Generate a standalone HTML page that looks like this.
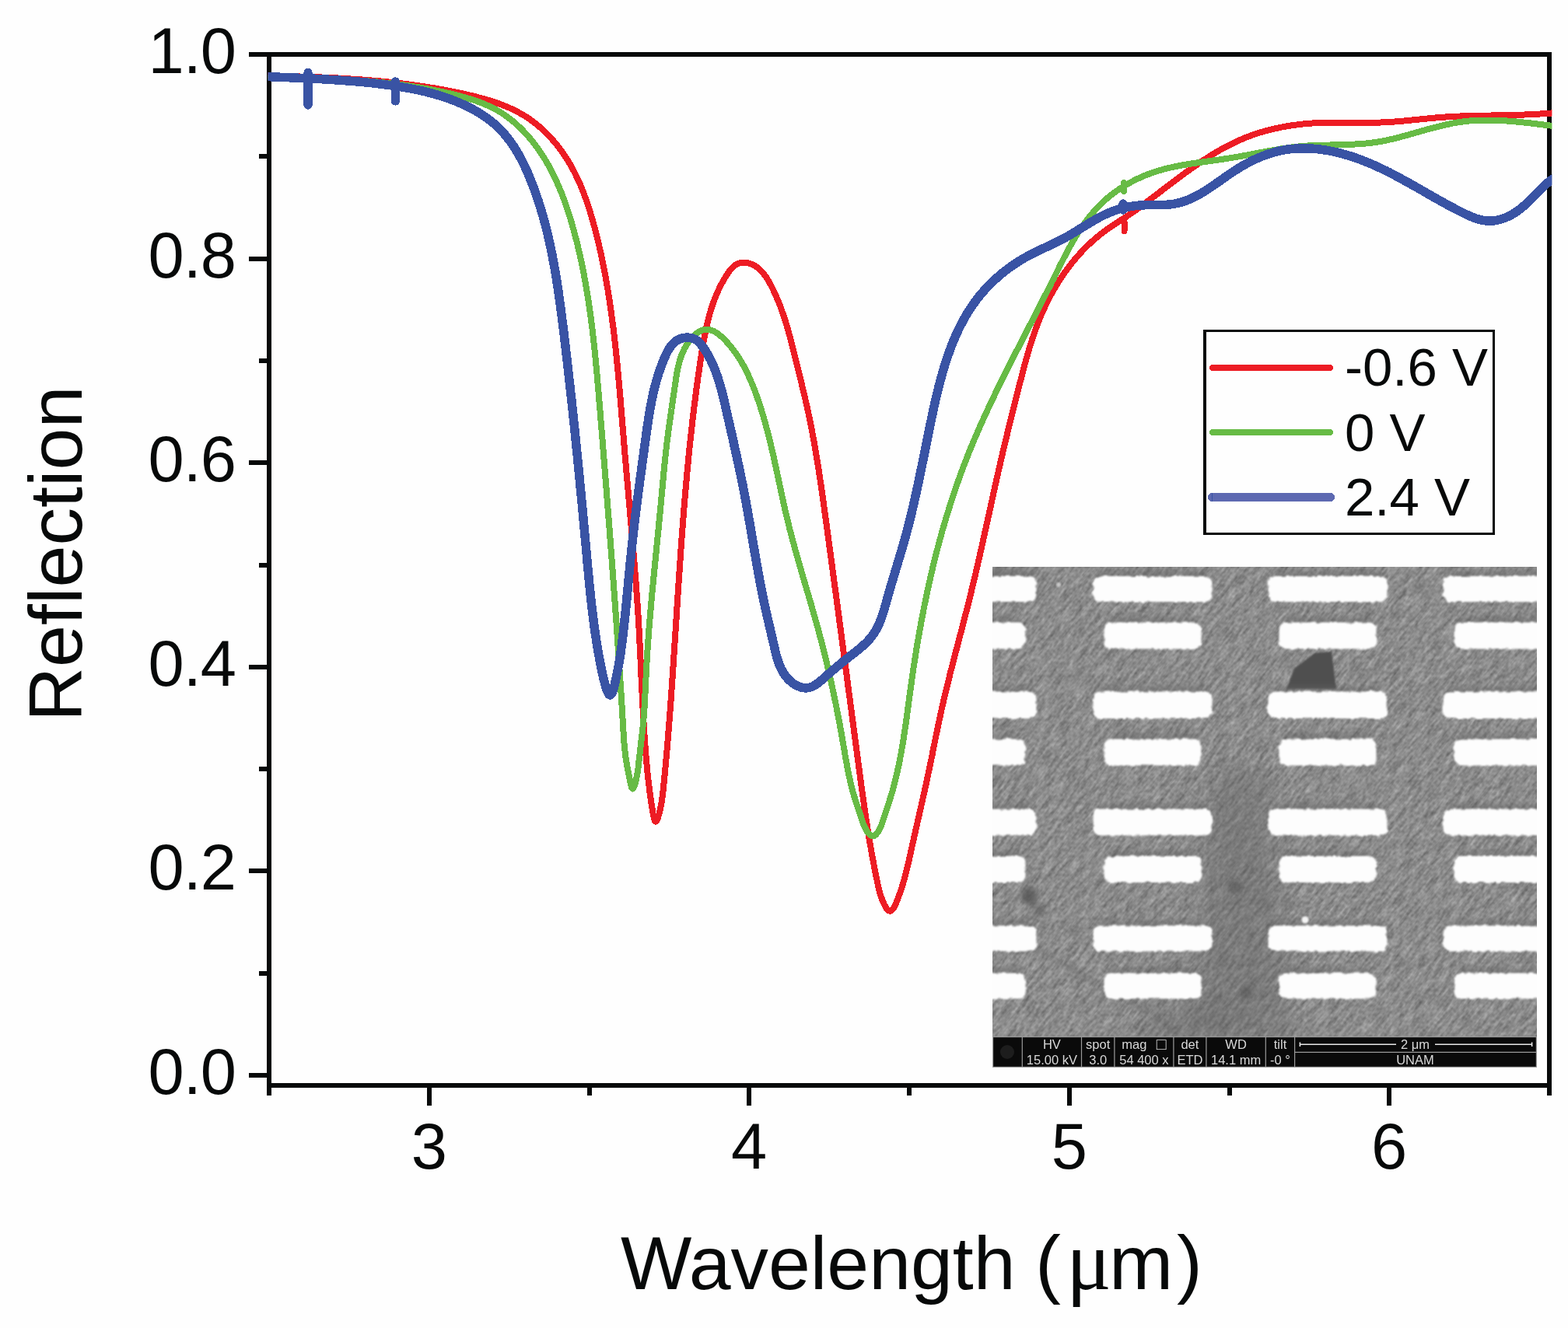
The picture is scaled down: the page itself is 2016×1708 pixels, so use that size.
<!DOCTYPE html>
<html><head><meta charset="utf-8"><title>Reflection spectra</title>
<style>html,body{margin:0;padding:0;background:#FEFEFE;}svg{display:block}</style></head>
<body><svg width="2016" height="1708" viewBox="0 0 2016 1708">
<rect width="2016" height="1708" fill="#FEFEFE"/>
<g fill="#070909" shape-rendering="crispEdges">
<rect x="320" y="67" width="1675" height="6"/>
<rect x="343" y="67" width="6" height="1342"/>
<rect x="343" y="1393" width="1652" height="6"/>
<rect x="1989" y="67" width="6" height="1342"/>
<rect x="320" y="1380.0" width="25" height="6"/>
<rect x="333" y="1248.7" width="12" height="6"/>
<rect x="320" y="1117.4" width="25" height="6"/>
<rect x="333" y="986.1" width="12" height="6"/>
<rect x="320" y="854.8" width="25" height="6"/>
<rect x="333" y="723.5" width="12" height="6"/>
<rect x="320" y="592.2" width="25" height="6"/>
<rect x="333" y="460.9" width="12" height="6"/>
<rect x="320" y="329.6" width="25" height="6"/>
<rect x="333" y="198.3" width="12" height="6"/>
<rect x="320" y="67.0" width="25" height="6"/>
<rect x="343.0" y="1397" width="6" height="12"/>
<rect x="548.8" y="1397" width="6" height="25"/>
<rect x="754.5" y="1397" width="6" height="12"/>
<rect x="960.2" y="1397" width="6" height="25"/>
<rect x="1166.0" y="1397" width="6" height="12"/>
<rect x="1371.8" y="1397" width="6" height="25"/>
<rect x="1577.5" y="1397" width="6" height="12"/>
<rect x="1783.2" y="1397" width="6" height="25"/>
<rect x="1989.0" y="1397" width="6" height="12"/>
</g>
<g font-family="Liberation Sans, Arial, sans-serif" font-size="83" fill="#070909">
<text x="303" y="1407.0" text-anchor="end" letter-spacing="-1">0.0</text>
<text x="303" y="1144.4" text-anchor="end" letter-spacing="-1">0.2</text>
<text x="303" y="881.8" text-anchor="end" letter-spacing="-1">0.4</text>
<text x="303" y="619.2" text-anchor="end" letter-spacing="-1">0.6</text>
<text x="303" y="356.6" text-anchor="end" letter-spacing="-1">0.8</text>
<text x="303" y="94.0" text-anchor="end" letter-spacing="-1">1.0</text>
<text x="551.8" y="1503" text-anchor="middle">3</text>
<text x="963.2" y="1503" text-anchor="middle">4</text>
<text x="1374.8" y="1503" text-anchor="middle">5</text>
<text x="1786.2" y="1503" text-anchor="middle">6</text>
</g>
<text transform="translate(105,928) rotate(-90)" font-family="Liberation Sans, Arial, sans-serif" font-size="97" fill="#070909">Reflection</text>
<text y="1658" font-family="Liberation Sans, Arial, sans-serif" font-size="98.8" fill="#070909"><tspan x="798" font-size="96.8">Wavelength</tspan> <tspan x="1331">(</tspan><tspan x="1371" font-family="Liberation Serif, serif" font-size="108">μ</tspan><tspan x="1426">m</tspan><tspan x="1513">)</tspan></text>
<defs>
<clipPath id="semclip"><rect x="1276" y="729" width="700" height="604"/></clipPath>
<filter id="blur4" x="-50%" y="-50%" width="200%" height="200%"><feGaussianBlur stdDeviation="6"/></filter>
<filter id="blur8" x="-50%" y="-50%" width="200%" height="200%"><feGaussianBlur stdDeviation="14"/></filter>
<filter id="blur2" x="-50%" y="-50%" width="200%" height="200%"><feGaussianBlur stdDeviation="3"/></filter>
<filter id="blur1" x="-10%" y="-50%" width="120%" height="200%"><feGaussianBlur stdDeviation="1.2"/></filter>
<filter id="noise" x="0" y="0" width="100%" height="100%" color-interpolation-filters="sRGB"><feTurbulence type="fractalNoise" baseFrequency="0.045 0.22" numOctaves="3" seed="7"/><feGaussianBlur stdDeviation="0.7"/><feColorMatrix type="matrix" values="1 0 0 0 0  1 0 0 0 0  1 0 0 0 0  0 0 0 0 0.36"/></filter>
<filter id="noise2" x="0" y="0" width="100%" height="100%" color-interpolation-filters="sRGB"><feTurbulence type="fractalNoise" baseFrequency="0.25" numOctaves="1" seed="11"/><feColorMatrix type="matrix" values="1 0 0 0 0  1 0 0 0 0  1 0 0 0 0  0 0 0 0 0.18"/></filter>
<filter id="rough" x="-5%" y="-20%" width="110%" height="140%"><feTurbulence type="fractalNoise" baseFrequency="0.15" numOctaves="2" seed="5" result="t"/><feDisplacementMap in="SourceGraphic" in2="t" scale="5" xChannelSelector="R" yChannelSelector="G" result="d"/><feGaussianBlur in="d" stdDeviation="0.9"/></filter>
<clipPath id="plotclip"><rect x="344.5" y="60" width="1650.9" height="1350"/></clipPath>
</defs>
<g clip-path="url(#semclip)">
<rect x="1276" y="729" width="700" height="604" fill="#959595"/>
<g transform="rotate(-52 1626 1031)"><rect x="1150" y="550" width="960" height="960" filter="url(#noise)"/></g>
<rect x="1276" y="729" width="700" height="604" filter="url(#noise2)"/>
<g filter="url(#blur8)" fill="#5e5e5e">
<path d="M1560,990 L1625,990 L1650,1200 L1660,1333 L1530,1333 L1545,1200 Z" opacity="0.35"/>
<path d="M1480,1290 L1560,1300 L1600,1333 L1470,1333 Z" opacity="0.3"/>
<ellipse cx="1290" cy="737" rx="20" ry="10" opacity="0.6"/>
</g>
<g filter="url(#blur2)" fill="#4e4e4e">
<circle cx="1323" cy="1152" r="11" opacity="0.7"/>
<circle cx="1336" cy="1170" r="8" opacity="0.5"/>
<circle cx="1588" cy="1141" r="9" opacity="0.5"/>
<circle cx="1602" cy="1277" r="9" opacity="0.5"/>
<path d="M1331,1220 Q1420,1270 1484,1306 L1520,1334" fill="none" stroke="#555" stroke-width="3" opacity="0.6"/>
</g>
<path d="M1654,886 L1664,860 L1690,840 L1712,838 L1718,886 Z" fill="#505050" filter="url(#blur1)"/>
<g fill="#666" opacity="0.45" filter="url(#blur2)">
<rect x="1185.5" y="734" width="141" height="10" rx="5"/>
<rect x="1411.5" y="734" width="141" height="10" rx="5"/>
<rect x="1636.5" y="734" width="141" height="10" rx="5"/>
<rect x="1861.5" y="734" width="141" height="10" rx="5"/>
<rect x="1199.5" y="793.5" width="113" height="10" rx="5"/>
<rect x="1425.5" y="793.5" width="113" height="10" rx="5"/>
<rect x="1650.5" y="793.5" width="113" height="10" rx="5"/>
<rect x="1875.5" y="793.5" width="113" height="10" rx="5"/>
<rect x="1185.5" y="882.5" width="141" height="10" rx="5"/>
<rect x="1411.5" y="882.5" width="141" height="10" rx="5"/>
<rect x="1636.5" y="882.5" width="141" height="10" rx="5"/>
<rect x="1861.5" y="882.5" width="141" height="10" rx="5"/>
<rect x="1199.5" y="943.5" width="113" height="10" rx="5"/>
<rect x="1425.5" y="943.5" width="113" height="10" rx="5"/>
<rect x="1650.5" y="943.5" width="113" height="10" rx="5"/>
<rect x="1875.5" y="943.5" width="113" height="10" rx="5"/>
<rect x="1185.5" y="1033.5" width="141" height="10" rx="5"/>
<rect x="1411.5" y="1033.5" width="141" height="10" rx="5"/>
<rect x="1636.5" y="1033.5" width="141" height="10" rx="5"/>
<rect x="1861.5" y="1033.5" width="141" height="10" rx="5"/>
<rect x="1199.5" y="1094" width="113" height="10" rx="5"/>
<rect x="1425.5" y="1094" width="113" height="10" rx="5"/>
<rect x="1650.5" y="1094" width="113" height="10" rx="5"/>
<rect x="1875.5" y="1094" width="113" height="10" rx="5"/>
<rect x="1185.5" y="1183.5" width="141" height="10" rx="5"/>
<rect x="1411.5" y="1183.5" width="141" height="10" rx="5"/>
<rect x="1636.5" y="1183.5" width="141" height="10" rx="5"/>
<rect x="1861.5" y="1183.5" width="141" height="10" rx="5"/>
<rect x="1199.5" y="1244.5" width="113" height="10" rx="5"/>
<rect x="1425.5" y="1244.5" width="113" height="10" rx="5"/>
<rect x="1650.5" y="1244.5" width="113" height="10" rx="5"/>
<rect x="1875.5" y="1244.5" width="113" height="10" rx="5"/>
</g>
<g fill="#FDFDFD" filter="url(#rough)">
<rect x="1179.5" y="741" width="153" height="33" rx="9" ry="9"/>
<rect x="1405.5" y="741" width="153" height="33" rx="9" ry="9"/>
<rect x="1630.5" y="741" width="153" height="33" rx="9" ry="9"/>
<rect x="1855.5" y="741" width="153" height="33" rx="9" ry="9"/>
<rect x="1193.5" y="800.5" width="125" height="34.0" rx="9" ry="9"/>
<rect x="1419.5" y="800.5" width="125" height="34.0" rx="9" ry="9"/>
<rect x="1644.5" y="800.5" width="125" height="34.0" rx="9" ry="9"/>
<rect x="1869.5" y="800.5" width="125" height="34.0" rx="9" ry="9"/>
<rect x="1179.5" y="889.5" width="153" height="34.5" rx="9" ry="9"/>
<rect x="1405.5" y="889.5" width="153" height="34.5" rx="9" ry="9"/>
<rect x="1630.5" y="889.5" width="153" height="34.5" rx="9" ry="9"/>
<rect x="1855.5" y="889.5" width="153" height="34.5" rx="9" ry="9"/>
<rect x="1193.5" y="950.5" width="125" height="34.0" rx="9" ry="9"/>
<rect x="1419.5" y="950.5" width="125" height="34.0" rx="9" ry="9"/>
<rect x="1644.5" y="950.5" width="125" height="34.0" rx="9" ry="9"/>
<rect x="1869.5" y="950.5" width="125" height="34.0" rx="9" ry="9"/>
<rect x="1179.5" y="1040.5" width="153" height="34.0" rx="9" ry="9"/>
<rect x="1405.5" y="1040.5" width="153" height="34.0" rx="9" ry="9"/>
<rect x="1630.5" y="1040.5" width="153" height="34.0" rx="9" ry="9"/>
<rect x="1855.5" y="1040.5" width="153" height="34.0" rx="9" ry="9"/>
<rect x="1193.5" y="1101" width="125" height="34" rx="9" ry="9"/>
<rect x="1419.5" y="1101" width="125" height="34" rx="9" ry="9"/>
<rect x="1644.5" y="1101" width="125" height="34" rx="9" ry="9"/>
<rect x="1869.5" y="1101" width="125" height="34" rx="9" ry="9"/>
<rect x="1179.5" y="1190.5" width="153" height="33.0" rx="9" ry="9"/>
<rect x="1405.5" y="1190.5" width="153" height="33.0" rx="9" ry="9"/>
<rect x="1630.5" y="1190.5" width="153" height="33.0" rx="9" ry="9"/>
<rect x="1855.5" y="1190.5" width="153" height="33.0" rx="9" ry="9"/>
<rect x="1193.5" y="1251.5" width="125" height="33.0" rx="9" ry="9"/>
<rect x="1419.5" y="1251.5" width="125" height="33.0" rx="9" ry="9"/>
<rect x="1644.5" y="1251.5" width="125" height="33.0" rx="9" ry="9"/>
<rect x="1869.5" y="1251.5" width="125" height="33.0" rx="9" ry="9"/>
</g>
<circle cx="1678" cy="1183" r="4.5" fill="#f4f4f4" filter="url(#blur1)"/>
<circle cx="1361" cy="752" r="3" fill="#c8c8c8" filter="url(#blur1)"/>
</g>
<g>
<rect x="1276" y="1333" width="700" height="40" fill="#0a0a0a"/>
<g stroke="#9a9a9a" stroke-width="1.2" fill="none">
<rect x="1276.6" y="1333.6" width="698.8" height="38.8"/>
<line x1="1314.3" y1="1333.6" x2="1314.3" y2="1372.4"/>
<line x1="1390.5" y1="1333.6" x2="1390.5" y2="1372.4"/>
<line x1="1432.9" y1="1333.6" x2="1432.9" y2="1372.4"/>
<line x1="1508.9" y1="1333.6" x2="1508.9" y2="1372.4"/>
<line x1="1550.9" y1="1333.6" x2="1550.9" y2="1372.4"/>
<line x1="1627.3" y1="1333.6" x2="1627.3" y2="1372.4"/>
<line x1="1664.6" y1="1333.6" x2="1664.6" y2="1372.4"/>
<line x1="1664.6" y1="1353.4" x2="1975.4" y2="1353.4"/>
</g>
<g font-family="Liberation Sans, Arial, sans-serif" font-size="16.5" fill="#d8d8d8" text-anchor="middle">
<text x="1352.4" y="1348.6">HV</text><text x="1352.4" y="1368.6">15.00 kV</text>
<text x="1411.7" y="1348.6">spot</text><text x="1411.7" y="1368.6">3.0</text>
<text x="1470.9" y="1368.6">54 400 x</text>
<text x="1529.9" y="1348.6">det</text><text x="1529.9" y="1368.6">ETD</text>
<text x="1589.1" y="1348.6">WD</text><text x="1589.1" y="1368.6">14.1 mm</text>
<text x="1646" y="1348.6">tilt</text><text x="1646" y="1368.6">-0 °</text>
<text x="1458.4" y="1348.6">mag</text><text x="1493" y="1350" font-size="21">□</text>
<text x="1819.5" y="1349">2 μm</text>
<text x="1819.5" y="1368.6">UNAM</text>
</g>
<g stroke="#e8e8e8" stroke-width="1.6"><line x1="1671.4" y1="1343.3" x2="1795" y2="1343.3"/><line x1="1845" y1="1343.3" x2="1969.6" y2="1343.3"/><line x1="1671.4" y1="1340.5" x2="1671.4" y2="1346"/><line x1="1969.6" y1="1340.5" x2="1969.6" y2="1346"/></g>
<circle cx="1295" cy="1353" r="9" fill="#2a2a2a" opacity="0.6"/>
</g>
<g clip-path="url(#plotclip)" fill="none" stroke-linejoin="round" stroke-linecap="round" shape-rendering="crispEdges">
<path d="M346.0,97.3C347.6,97.4 349.3,97.4 351.0,97.5C352.6,97.5 354.3,97.6 356.0,97.6C357.7,97.6 359.3,97.7 361.0,97.7C362.7,97.8 364.3,97.8 366.0,97.9C367.7,97.9 369.3,98.0 371.0,98.0C372.7,98.1 374.4,98.1 376.0,98.2C377.7,98.2 379.4,98.3 381.0,98.3C382.7,98.4 384.4,98.4 386.0,98.5C387.7,98.5 389.4,98.6 391.0,98.6C392.7,98.7 394.4,98.8 396.1,98.8C397.7,98.9 399.4,98.9 401.1,99.0C402.7,99.1 404.4,99.1 406.1,99.2C407.7,99.3 409.4,99.3 411.1,99.4C412.7,99.5 414.4,99.5 416.1,99.6C417.7,99.7 419.4,99.8 421.1,99.8C422.7,99.9 424.4,100.0 426.1,100.1C427.7,100.2 429.4,100.3 431.1,100.3C432.7,100.4 434.4,100.5 436.1,100.6C437.7,100.7 439.4,100.8 441.1,100.9C442.7,101.0 444.4,101.1 446.1,101.2C447.7,101.3 449.4,101.4 451.1,101.5C452.7,101.6 454.4,101.7 456.0,101.8C457.7,101.9 459.4,102.1 461.0,102.2C462.7,102.3 464.4,102.4 466.0,102.5C467.7,102.7 469.3,102.8 471.0,102.9C472.7,103.0 474.3,103.2 476.0,103.3C477.6,103.5 479.3,103.6 481.0,103.7C482.6,103.9 484.3,104.0 485.9,104.2C487.6,104.3 489.3,104.5 490.9,104.6C492.6,104.8 494.2,105.0 495.9,105.1C497.6,105.3 499.2,105.5 500.9,105.6C502.5,105.8 504.2,106.0 505.8,106.2C507.5,106.3 509.2,106.5 510.8,106.7C512.5,106.9 514.1,107.1 515.8,107.3C517.4,107.5 519.1,107.7 520.7,107.9C522.4,108.1 524.0,108.3 525.7,108.5C527.3,108.7 529.0,109.0 530.6,109.2C532.3,109.4 534.0,109.6 535.6,109.9C537.3,110.1 538.9,110.3 540.6,110.6C542.2,110.8 543.8,111.1 545.5,111.3C547.1,111.6 548.8,111.8 550.4,112.1C552.1,112.3 553.7,112.6 555.4,112.9C557.0,113.2 558.7,113.4 560.3,113.7C562.0,114.0 563.6,114.3 565.2,114.6C566.9,114.9 568.5,115.2 570.2,115.5C571.8,115.8 573.5,116.1 575.1,116.4C576.7,116.7 578.4,117.0 580.0,117.3C581.7,117.7 583.3,118.0 584.9,118.3C586.6,118.7 588.2,119.0 589.9,119.4C591.5,119.7 593.1,120.1 594.8,120.4C596.4,120.8 598.0,121.2 599.7,121.5C601.3,121.9 602.9,122.3 604.6,122.7C606.2,123.0 607.8,123.4 609.5,123.8C611.1,124.2 612.7,124.6 614.3,125.1C616.0,125.5 617.6,125.9 619.2,126.4C620.8,126.8 622.4,127.2 624.0,127.7C625.6,128.2 627.2,128.6 628.8,129.1C630.4,129.6 632.0,130.1 633.6,130.6C635.2,131.2 636.8,131.7 638.3,132.2C639.9,132.8 641.5,133.3 643.0,133.9C644.6,134.5 646.2,135.1 647.7,135.7C649.2,136.3 650.8,136.9 652.3,137.6C653.8,138.2 655.3,138.9 656.8,139.6C658.3,140.3 659.8,141.0 661.3,141.7C662.8,142.5 664.3,143.2 665.7,144.0C667.2,144.8 668.6,145.6 670.1,146.4C671.5,147.2 672.9,148.1 674.3,148.9C675.7,149.8 677.1,150.7 678.5,151.6C679.9,152.5 681.3,153.5 682.6,154.4C684.0,155.4 685.3,156.4 686.6,157.4C688.0,158.4 689.3,159.5 690.6,160.5C691.9,161.6 693.1,162.7 694.4,163.8C695.7,164.9 696.9,166.0 698.2,167.2C699.4,168.3 700.6,169.5 701.8,170.7C703.0,171.8 704.2,173.0 705.3,174.2C706.5,175.5 707.6,176.7 708.8,177.9C709.9,179.2 711.0,180.5 712.1,181.7C713.2,183.0 714.3,184.3 715.3,185.6C716.4,186.9 717.4,188.2 718.5,189.6C719.5,190.9 720.5,192.2 721.5,193.6C722.4,194.9 723.4,196.3 724.3,197.7C725.3,199.0 726.2,200.4 727.1,201.8C728.0,203.2 728.9,204.6 729.8,206.0C730.7,207.4 731.5,208.9 732.4,210.3C733.2,211.7 734.0,213.2 734.8,214.6C735.6,216.1 736.4,217.5 737.2,219.0C738.0,220.4 738.7,221.9 739.5,223.4C740.2,224.9 740.9,226.4 741.6,227.9C742.4,229.4 743.1,230.9 743.7,232.4C744.4,233.9 745.1,235.4 745.8,236.9C746.4,238.5 747.1,240.0 747.7,241.5C748.3,243.1 749.0,244.6 749.6,246.2C750.2,247.7 750.8,249.3 751.3,250.8C751.9,252.4 752.5,253.9 753.1,255.5C753.6,257.1 754.2,258.7 754.7,260.2C755.3,261.8 755.8,263.4 756.3,265.0C756.8,266.6 757.4,268.2 757.9,269.8C758.4,271.4 758.9,273.0 759.3,274.6C759.8,276.2 760.3,277.8 760.8,279.4C761.2,281.0 761.7,282.6 762.2,284.2C762.6,285.8 763.1,287.4 763.5,289.0C763.9,290.6 764.4,292.3 764.8,293.9C765.2,295.5 765.6,297.1 766.1,298.7C766.5,300.4 766.9,302.0 767.3,303.6C767.7,305.2 768.1,306.8 768.5,308.5C768.9,310.1 769.3,311.7 769.7,313.3C770.0,315.0 770.4,316.6 770.8,318.2C771.2,319.8 771.5,321.5 771.9,323.1C772.3,324.7 772.6,326.4 773.0,328.0C773.3,329.6 773.7,331.3 774.0,332.9C774.4,334.5 774.7,336.1 775.0,337.8C775.4,339.4 775.7,341.0 776.0,342.7C776.3,344.3 776.6,346.0 777.0,347.6C777.3,349.2 777.6,350.9 777.9,352.5C778.2,354.1 778.5,355.8 778.8,357.4C779.1,359.1 779.4,360.7 779.7,362.3C780.0,364.0 780.3,365.6 780.5,367.3C780.8,368.9 781.1,370.5 781.4,372.2C781.6,373.8 781.9,375.5 782.2,377.1C782.4,378.8 782.7,380.4 782.9,382.1C783.2,383.7 783.5,385.3 783.7,387.0C784.0,388.6 784.2,390.3 784.4,391.9C784.7,393.6 784.9,395.2 785.2,396.9C785.4,398.5 785.6,400.2 785.9,401.8C786.1,403.5 786.3,405.1 786.5,406.8C786.8,408.4 787.0,410.1 787.2,411.7C787.4,413.4 787.6,415.0 787.8,416.7C788.1,418.3 788.3,420.0 788.5,421.7C788.7,423.3 788.9,425.0 789.1,426.6C789.3,428.3 789.5,429.9 789.7,431.6C789.9,433.2 790.1,434.9 790.2,436.5C790.4,438.2 790.6,439.9 790.8,441.5C791.0,443.2 791.2,444.8 791.3,446.5C791.5,448.1 791.7,449.8 791.9,451.5C792.1,453.1 792.2,454.8 792.4,456.4C792.6,458.1 792.7,459.8 792.9,461.4C793.1,463.1 793.2,464.7 793.4,466.4C793.6,468.1 793.7,469.7 793.9,471.4C794.1,473.0 794.2,474.7 794.4,476.4C794.5,478.0 794.7,479.7 794.8,481.4C795.0,483.0 795.1,484.7 795.3,486.3C795.4,488.0 795.6,489.7 795.7,491.3C795.9,493.0 796.0,494.7 796.2,496.3C796.3,498.0 796.5,499.6 796.6,501.3C796.8,503.0 796.9,504.6 797.0,506.3C797.2,508.0 797.3,509.6 797.5,511.3C797.6,513.0 797.8,514.6 797.9,516.3C798.0,518.0 798.2,519.6 798.3,521.3C798.4,522.9 798.6,524.6 798.7,526.3C798.9,527.9 799.0,529.6 799.1,531.3C799.3,532.9 799.4,534.6 799.5,536.3C799.7,537.9 799.8,539.6 799.9,541.3C800.1,542.9 800.2,544.6 800.3,546.3C800.5,547.9 800.6,549.6 800.7,551.3C800.9,552.9 801.0,554.6 801.2,556.2C801.3,557.9 801.4,559.6 801.6,561.2C801.7,562.9 801.8,564.6 802.0,566.2C802.1,567.9 802.2,569.6 802.4,571.2C802.5,572.9 802.7,574.6 802.8,576.2C802.9,577.9 803.1,579.6 803.2,581.2C803.4,582.9 803.5,584.5 803.6,586.2C803.8,587.9 803.9,589.5 804.1,591.2C804.2,592.9 804.4,594.5 804.5,596.2C804.6,597.9 804.8,599.5 804.9,601.2C805.1,602.8 805.2,604.5 805.4,606.2C805.5,607.8 805.7,609.5 805.8,611.2C805.9,612.8 806.1,614.5 806.2,616.2C806.4,617.8 806.5,619.5 806.7,621.1C806.8,622.8 807.0,624.5 807.1,626.1C807.3,627.8 807.4,629.5 807.6,631.1C807.7,632.8 807.9,634.4 808.0,636.1C808.1,637.8 808.3,639.4 808.4,641.1C808.6,642.8 808.7,644.4 808.9,646.1C809.0,647.7 809.2,649.4 809.3,651.1C809.5,652.7 809.6,654.4 809.8,656.1C809.9,657.7 810.1,659.4 810.2,661.0C810.4,662.7 810.5,664.4 810.6,666.0C810.8,667.7 810.9,669.3 811.1,671.0C811.2,672.7 811.4,674.3 811.5,676.0C811.7,677.7 811.8,679.3 812.0,681.0C812.1,682.6 812.2,684.3 812.4,686.0C812.5,687.6 812.7,689.3 812.8,690.9C813.0,692.6 813.1,694.3 813.3,695.9C813.4,697.6 813.5,699.2 813.7,700.9C813.8,702.6 814.0,704.2 814.1,705.9C814.2,707.6 814.4,709.2 814.5,710.9C814.7,712.5 814.8,714.2 814.9,715.9C815.1,717.5 815.2,719.2 815.3,720.8C815.5,722.5 815.6,724.2 815.7,725.8C815.9,727.5 816.0,729.1 816.1,730.8C816.3,732.5 816.4,734.1 816.5,735.8C816.7,737.5 816.8,739.1 816.9,740.8C817.1,742.4 817.2,744.1 817.3,745.8C817.4,747.4 817.6,749.1 817.7,750.7C817.8,752.4 817.9,754.1 818.1,755.7C818.2,757.4 818.3,759.0 818.4,760.7C818.5,762.4 818.7,764.0 818.8,765.7C818.9,767.4 819.0,769.0 819.1,770.7C819.2,772.3 819.4,774.0 819.5,775.7C819.6,777.3 819.7,779.0 819.8,780.6C819.9,782.3 820.0,784.0 820.1,785.6C820.2,787.3 820.3,788.9 820.5,790.6C820.6,792.3 820.7,793.9 820.8,795.6C820.9,797.3 821.0,798.9 821.1,800.6C821.2,802.2 821.3,803.9 821.4,805.6C821.5,807.2 821.5,808.9 821.6,810.5C821.7,812.2 821.8,813.9 821.9,815.5C822.0,817.2 822.1,818.9 822.2,820.5C822.3,822.2 822.4,823.8 822.4,825.5C822.5,827.2 822.6,828.8 822.7,830.5C822.8,832.2 822.8,833.8 822.9,835.5C823.0,837.1 823.1,838.8 823.2,840.5C823.2,842.1 823.3,843.8 823.4,845.5C823.5,847.1 823.6,848.8 823.6,850.5C823.7,852.1 823.8,853.8 823.9,855.5C823.9,857.1 824.0,858.8 824.1,860.5C824.2,862.1 824.2,863.8 824.3,865.5C824.4,867.1 824.5,868.8 824.5,870.5C824.6,872.2 824.7,873.8 824.8,875.5C824.8,877.2 824.9,878.9 825.0,880.5C825.1,882.2 825.2,883.9 825.2,885.6C825.3,887.2 825.4,888.9 825.5,890.6C825.6,892.3 825.6,893.9 825.7,895.6C825.8,897.3 825.9,899.0 826.0,900.7C826.1,902.3 826.1,904.0 826.2,905.7C826.3,907.4 826.4,909.1 826.5,910.8C826.6,912.4 826.7,914.1 826.8,915.8C826.9,917.5 826.9,919.2 827.0,920.9C827.1,922.5 827.2,924.2 827.3,925.9C827.4,927.6 827.5,929.3 827.6,930.9C827.7,932.6 827.8,934.3 827.9,936.0C828.0,937.6 828.2,939.3 828.3,941.0C828.4,942.6 828.5,944.3 828.6,946.0C828.7,947.6 828.8,949.3 828.9,950.9C829.0,952.6 829.2,954.2 829.3,955.9C829.4,957.5 829.5,959.2 829.6,960.8C829.8,962.5 829.9,964.1 830.0,965.7C830.1,967.4 830.3,969.0 830.4,970.6C830.5,972.2 830.7,973.8 830.8,975.4C830.9,977.0 831.1,978.6 831.2,980.2C831.4,981.8 831.5,983.4 831.7,985.0C831.8,986.6 832.0,988.2 832.1,989.8C832.3,991.4 832.4,993.0 832.6,994.7C832.8,996.3 832.9,997.9 833.1,999.5C833.3,1001.1 833.5,1002.8 833.7,1004.4C833.9,1006.1 834.1,1007.8 834.3,1009.4C834.5,1011.1 834.7,1012.8 834.9,1014.6C835.1,1016.3 835.3,1018.0 835.6,1019.8C835.8,1021.6 836.1,1023.3 836.3,1025.2C836.6,1027.0 836.8,1028.8 837.1,1030.7C837.4,1032.6 837.7,1034.5 838.0,1036.4C838.3,1038.4 838.6,1040.3 838.9,1042.3C839.2,1044.3 839.6,1046.4 839.9,1048.3C840.3,1050.2 840.7,1052.0 841.1,1053.4C841.5,1054.8 841.9,1055.8 842.4,1056.3C842.8,1056.9 843.4,1056.8 843.9,1056.1C844.4,1055.4 845.0,1054.3 845.6,1052.7C846.1,1051.2 846.7,1049.4 847.2,1047.5C847.8,1045.5 848.3,1043.5 848.7,1041.5C849.2,1039.5 849.6,1037.6 849.9,1035.7C850.3,1033.8 850.6,1032.0 850.9,1030.2C851.2,1028.5 851.4,1026.7 851.6,1025.0C851.8,1023.3 852.0,1021.6 852.2,1020.0C852.4,1018.3 852.6,1016.7 852.8,1015.0C852.9,1013.4 853.1,1011.7 853.3,1010.1C853.4,1008.4 853.6,1006.8 853.8,1005.1C853.9,1003.5 854.1,1001.8 854.3,1000.2C854.4,998.5 854.6,996.9 854.7,995.2C854.9,993.5 855.1,991.9 855.2,990.2C855.4,988.6 855.5,986.9 855.7,985.3C855.8,983.6 856.0,982.0 856.1,980.3C856.3,978.7 856.4,977.0 856.6,975.4C856.7,973.7 856.9,972.0 857.0,970.4C857.2,968.7 857.3,967.1 857.5,965.4C857.6,963.8 857.7,962.1 857.9,960.4C858.0,958.8 858.2,957.1 858.3,955.5C858.4,953.8 858.6,952.1 858.7,950.5C858.9,948.8 859.0,947.2 859.1,945.5C859.3,943.8 859.4,942.2 859.5,940.5C859.7,938.9 859.8,937.2 859.9,935.5C860.1,933.9 860.2,932.2 860.3,930.5C860.4,928.9 860.6,927.2 860.7,925.6C860.8,923.9 861.0,922.2 861.1,920.6C861.2,918.9 861.3,917.2 861.5,915.6C861.6,913.9 861.7,912.2 861.8,910.6C862.0,908.9 862.1,907.3 862.2,905.6C862.3,903.9 862.4,902.3 862.6,900.6C862.7,898.9 862.8,897.3 862.9,895.6C863.0,893.9 863.2,892.3 863.3,890.6C863.4,888.9 863.5,887.3 863.6,885.6C863.7,883.9 863.9,882.3 864.0,880.6C864.1,878.9 864.2,877.3 864.3,875.6C864.4,874.0 864.5,872.3 864.7,870.6C864.8,869.0 864.9,867.3 865.0,865.6C865.1,864.0 865.2,862.3 865.3,860.6C865.4,859.0 865.5,857.3 865.7,855.6C865.8,854.0 865.9,852.3 866.0,850.6C866.1,849.0 866.2,847.3 866.3,845.6C866.4,844.0 866.5,842.3 866.6,840.6C866.8,839.0 866.9,837.3 867.0,835.6C867.1,834.0 867.2,832.3 867.3,830.6C867.4,829.0 867.5,827.3 867.6,825.7C867.7,824.0 867.8,822.3 867.9,820.7C868.1,819.0 868.2,817.3 868.3,815.7C868.4,814.0 868.5,812.3 868.6,810.7C868.7,809.0 868.8,807.3 868.9,805.7C869.0,804.0 869.1,802.3 869.2,800.7C869.3,799.0 869.4,797.3 869.6,795.7C869.7,794.0 869.8,792.4 869.9,790.7C870.0,789.0 870.1,787.4 870.2,785.7C870.3,784.0 870.4,782.4 870.5,780.7C870.6,779.0 870.7,777.4 870.8,775.7C871.0,774.0 871.1,772.4 871.2,770.7C871.3,769.1 871.4,767.4 871.5,765.7C871.6,764.1 871.7,762.4 871.8,760.7C871.9,759.1 872.0,757.4 872.1,755.7C872.3,754.1 872.4,752.4 872.5,750.7C872.6,749.1 872.7,747.4 872.8,745.8C872.9,744.1 873.0,742.4 873.1,740.8C873.3,739.1 873.4,737.4 873.5,735.8C873.6,734.1 873.7,732.4 873.8,730.8C873.9,729.1 874.0,727.5 874.2,725.8C874.3,724.1 874.4,722.5 874.5,720.8C874.6,719.1 874.7,717.5 874.8,715.8C875.0,714.1 875.1,712.5 875.2,710.8C875.3,709.2 875.4,707.5 875.5,705.8C875.7,704.2 875.8,702.5 875.9,700.8C876.0,699.2 876.1,697.5 876.3,695.9C876.4,694.2 876.5,692.5 876.6,690.9C876.8,689.2 876.9,687.5 877.0,685.9C877.1,684.2 877.2,682.6 877.4,680.9C877.5,679.2 877.6,677.6 877.8,675.9C877.9,674.2 878.0,672.6 878.1,670.9C878.3,669.3 878.4,667.6 878.5,665.9C878.6,664.3 878.8,662.6 878.9,660.9C879.0,659.3 879.2,657.6 879.3,656.0C879.4,654.3 879.6,652.6 879.7,651.0C879.8,649.3 880.0,647.7 880.1,646.0C880.3,644.3 880.4,642.7 880.5,641.0C880.7,639.3 880.8,637.7 881.0,636.0C881.1,634.4 881.2,632.7 881.4,631.0C881.5,629.4 881.7,627.7 881.8,626.1C882.0,624.4 882.1,622.7 882.3,621.1C882.4,619.4 882.6,617.7 882.7,616.1C882.9,614.4 883.0,612.8 883.2,611.1C883.3,609.4 883.5,607.8 883.6,606.1C883.8,604.5 883.9,602.8 884.1,601.1C884.2,599.5 884.4,597.8 884.6,596.2C884.7,594.5 884.9,592.8 885.0,591.2C885.2,589.5 885.4,587.9 885.5,586.2C885.7,584.5 885.9,582.9 886.0,581.2C886.2,579.6 886.4,577.9 886.5,576.2C886.7,574.6 886.9,572.9 887.1,571.3C887.2,569.6 887.4,567.9 887.6,566.3C887.8,564.6 887.9,563.0 888.1,561.3C888.3,559.7 888.5,558.0 888.7,556.3C888.8,554.7 889.0,553.0 889.2,551.4C889.4,549.7 889.6,548.0 889.8,546.4C890.0,544.7 890.2,543.1 890.3,541.4C890.5,539.7 890.7,538.1 890.9,536.4C891.1,534.8 891.3,533.1 891.5,531.5C891.7,529.8 891.9,528.1 892.1,526.5C892.3,524.8 892.5,523.2 892.7,521.5C892.9,519.9 893.1,518.2 893.4,516.5C893.6,514.9 893.8,513.2 894.0,511.6C894.2,509.9 894.4,508.2 894.6,506.6C894.8,504.9 895.1,503.3 895.3,501.6C895.5,500.0 895.7,498.3 895.9,496.6C896.2,495.0 896.4,493.3 896.6,491.7C896.9,490.0 897.1,488.4 897.3,486.7C897.5,485.1 897.8,483.4 898.0,481.7C898.3,480.1 898.5,478.4 898.7,476.8C899.0,475.1 899.2,473.5 899.5,471.8C899.7,470.1 899.9,468.5 900.2,466.8C900.4,465.2 900.7,463.5 900.9,461.9C901.2,460.2 901.4,458.6 901.7,456.9C902.0,455.2 902.2,453.6 902.5,451.9C902.8,450.3 903.0,448.6 903.3,447.0C903.6,445.3 903.8,443.7 904.1,442.0C904.4,440.4 904.7,438.7 905.0,437.1C905.3,435.4 905.6,433.8 905.9,432.2C906.2,430.5 906.6,428.9 906.9,427.3C907.2,425.6 907.6,424.0 907.9,422.4C908.3,420.8 908.6,419.1 909.0,417.5C909.4,415.9 909.8,414.3 910.2,412.7C910.6,411.1 911.0,409.5 911.4,407.9C911.8,406.3 912.2,404.7 912.7,403.1C913.2,401.5 913.6,399.9 914.1,398.4C914.6,396.8 915.1,395.2 915.6,393.7C916.1,392.1 916.7,390.5 917.2,389.0C917.8,387.5 918.3,385.9 918.9,384.4C919.5,382.9 920.1,381.3 920.8,379.8C921.4,378.3 922.0,376.8 922.7,375.3C923.4,373.8 924.1,372.3 924.8,370.8C925.5,369.4 926.2,367.9 927.0,366.4C927.8,364.9 928.6,363.4 929.4,361.9C930.3,360.4 931.1,358.9 932.1,357.4C933.0,355.8 934.0,354.3 935.0,352.7C936.1,351.1 937.2,349.5 938.3,348.0C939.5,346.5 940.7,345.1 942.0,343.8C943.2,342.5 944.6,341.4 946.0,340.6C947.4,339.7 948.9,339.0 950.4,338.6C951.9,338.1 953.5,337.8 955.1,337.7C956.6,337.6 958.2,337.7 959.8,337.9C961.4,338.2 963.0,338.6 964.5,339.1C966.0,339.6 967.5,340.2 969.0,341.0C970.4,341.7 971.8,342.6 973.1,343.5C974.4,344.5 975.6,345.5 976.9,346.6C978.1,347.8 979.2,349.0 980.3,350.2C981.4,351.5 982.5,352.9 983.5,354.2C984.5,355.6 985.5,357.1 986.4,358.5C987.3,360.0 988.2,361.5 989.1,363.1C990.0,364.6 990.8,366.2 991.6,367.7C992.4,369.3 993.2,370.9 994.0,372.4C994.7,374.0 995.5,375.6 996.2,377.2C996.9,378.7 997.6,380.3 998.3,381.9C999.0,383.5 999.7,385.0 1000.3,386.6C1001.0,388.2 1001.6,389.7 1002.2,391.3C1002.9,392.9 1003.5,394.5 1004.0,396.0C1004.6,397.6 1005.2,399.2 1005.7,400.8C1006.3,402.3 1006.8,403.9 1007.4,405.5C1007.9,407.0 1008.4,408.6 1008.9,410.2C1009.4,411.8 1009.9,413.3 1010.4,414.9C1010.9,416.5 1011.4,418.1 1011.8,419.7C1012.3,421.2 1012.7,422.8 1013.2,424.4C1013.6,426.0 1014.1,427.6 1014.5,429.1C1014.9,430.7 1015.4,432.3 1015.8,433.9C1016.2,435.5 1016.6,437.1 1017.0,438.7C1017.4,440.2 1017.9,441.8 1018.3,443.4C1018.7,445.0 1019.1,446.6 1019.5,448.2C1019.9,449.8 1020.3,451.4 1020.7,453.0C1021.0,454.6 1021.4,456.2 1021.8,457.8C1022.2,459.4 1022.6,461.0 1023.0,462.6C1023.4,464.2 1023.8,465.8 1024.2,467.4C1024.6,469.0 1025.0,470.7 1025.4,472.3C1025.8,473.9 1026.2,475.5 1026.6,477.1C1027.0,478.7 1027.4,480.4 1027.8,482.0C1028.2,483.6 1028.6,485.2 1029.0,486.8C1029.4,488.5 1029.8,490.1 1030.2,491.7C1030.6,493.3 1031.0,495.0 1031.4,496.6C1031.8,498.2 1032.2,499.9 1032.6,501.5C1033.0,503.1 1033.3,504.8 1033.7,506.4C1034.1,508.0 1034.5,509.7 1034.9,511.3C1035.3,512.9 1035.6,514.6 1036.0,516.2C1036.4,517.8 1036.8,519.5 1037.1,521.1C1037.5,522.7 1037.8,524.4 1038.2,526.0C1038.6,527.7 1038.9,529.3 1039.3,530.9C1039.6,532.6 1040.0,534.2 1040.3,535.9C1040.7,537.5 1041.0,539.1 1041.3,540.8C1041.7,542.4 1042.0,544.1 1042.3,545.7C1042.6,547.4 1043.0,549.0 1043.3,550.6C1043.6,552.3 1043.9,553.9 1044.2,555.6C1044.6,557.2 1044.9,558.9 1045.2,560.5C1045.5,562.1 1045.8,563.8 1046.1,565.4C1046.4,567.1 1046.7,568.7 1047.0,570.4C1047.2,572.0 1047.5,573.7 1047.8,575.3C1048.1,576.9 1048.4,578.6 1048.7,580.2C1049.0,581.9 1049.2,583.5 1049.5,585.2C1049.8,586.8 1050.0,588.5 1050.3,590.1C1050.6,591.8 1050.9,593.4 1051.1,595.0C1051.4,596.7 1051.6,598.3 1051.9,600.0C1052.2,601.6 1052.4,603.3 1052.7,604.9C1052.9,606.6 1053.2,608.2 1053.4,609.9C1053.7,611.5 1053.9,613.2 1054.2,614.8C1054.4,616.5 1054.7,618.1 1054.9,619.8C1055.2,621.4 1055.4,623.1 1055.7,624.7C1055.9,626.4 1056.1,628.0 1056.4,629.7C1056.6,631.3 1056.8,633.0 1057.1,634.6C1057.3,636.3 1057.6,637.9 1057.8,639.6C1058.0,641.2 1058.3,642.9 1058.5,644.5C1058.7,646.2 1058.9,647.8 1059.2,649.5C1059.4,651.1 1059.6,652.8 1059.9,654.4C1060.1,656.1 1060.3,657.7 1060.5,659.4C1060.8,661.0 1061.0,662.7 1061.2,664.3C1061.4,666.0 1061.7,667.6 1061.9,669.3C1062.1,670.9 1062.4,672.6 1062.6,674.2C1062.8,675.9 1063.0,677.5 1063.3,679.2C1063.5,680.8 1063.7,682.5 1063.9,684.1C1064.2,685.8 1064.4,687.4 1064.6,689.1C1064.8,690.7 1065.0,692.4 1065.3,694.0C1065.5,695.7 1065.7,697.3 1065.9,699.0C1066.2,700.7 1066.4,702.3 1066.6,704.0C1066.8,705.6 1067.1,707.3 1067.3,708.9C1067.5,710.6 1067.7,712.2 1068.0,713.9C1068.2,715.5 1068.4,717.2 1068.6,718.8C1068.8,720.5 1069.1,722.1 1069.3,723.8C1069.5,725.4 1069.7,727.1 1070.0,728.7C1070.2,730.4 1070.4,732.0 1070.6,733.7C1070.8,735.3 1071.1,737.0 1071.3,738.7C1071.5,740.3 1071.7,742.0 1072.0,743.6C1072.2,745.3 1072.4,746.9 1072.6,748.6C1072.8,750.2 1073.1,751.9 1073.3,753.5C1073.5,755.2 1073.7,756.8 1073.9,758.5C1074.2,760.1 1074.4,761.8 1074.6,763.4C1074.8,765.1 1075.1,766.7 1075.3,768.4C1075.5,770.1 1075.7,771.7 1075.9,773.4C1076.2,775.0 1076.4,776.7 1076.6,778.3C1076.8,780.0 1077.0,781.6 1077.3,783.3C1077.5,784.9 1077.7,786.6 1077.9,788.2C1078.1,789.9 1078.4,791.5 1078.6,793.2C1078.8,794.8 1079.0,796.5 1079.2,798.2C1079.5,799.8 1079.7,801.5 1079.9,803.1C1080.1,804.8 1080.3,806.4 1080.6,808.1C1080.8,809.7 1081.0,811.4 1081.2,813.0C1081.4,814.7 1081.7,816.3 1081.9,818.0C1082.1,819.7 1082.3,821.3 1082.5,823.0C1082.8,824.6 1083.0,826.3 1083.2,827.9C1083.4,829.6 1083.6,831.2 1083.8,832.9C1084.1,834.5 1084.3,836.2 1084.5,837.8C1084.7,839.5 1084.9,841.2 1085.2,842.8C1085.4,844.5 1085.6,846.1 1085.8,847.8C1086.0,849.4 1086.3,851.1 1086.5,852.7C1086.7,854.4 1086.9,856.0 1087.1,857.7C1087.4,859.3 1087.6,861.0 1087.8,862.7C1088.0,864.3 1088.2,866.0 1088.5,867.6C1088.7,869.3 1088.9,870.9 1089.1,872.6C1089.3,874.2 1089.5,875.9 1089.8,877.5C1090.0,879.2 1090.2,880.9 1090.4,882.5C1090.6,884.2 1090.9,885.8 1091.1,887.5C1091.3,889.1 1091.5,890.8 1091.7,892.4C1092.0,894.1 1092.2,895.7 1092.4,897.4C1092.6,899.1 1092.8,900.7 1093.1,902.4C1093.3,904.0 1093.5,905.7 1093.7,907.3C1093.9,909.0 1094.1,910.6 1094.4,912.3C1094.6,913.9 1094.8,915.6 1095.0,917.3C1095.2,918.9 1095.5,920.6 1095.7,922.2C1095.9,923.9 1096.1,925.5 1096.3,927.2C1096.6,928.8 1096.8,930.5 1097.0,932.2C1097.2,933.8 1097.4,935.5 1097.7,937.1C1097.9,938.8 1098.1,940.4 1098.3,942.1C1098.5,943.7 1098.8,945.4 1099.0,947.0C1099.2,948.7 1099.4,950.4 1099.6,952.0C1099.9,953.7 1100.1,955.3 1100.3,957.0C1100.5,958.6 1100.7,960.3 1101.0,961.9C1101.2,963.6 1101.4,965.3 1101.6,966.9C1101.9,968.6 1102.1,970.2 1102.3,971.9C1102.5,973.5 1102.7,975.2 1103.0,976.8C1103.2,978.5 1103.4,980.2 1103.6,981.8C1103.8,983.5 1104.1,985.1 1104.3,986.8C1104.5,988.4 1104.7,990.1 1104.9,991.7C1105.2,993.4 1105.4,995.0 1105.6,996.7C1105.8,998.4 1106.1,1000.0 1106.3,1001.7C1106.5,1003.3 1106.7,1005.0 1107.0,1006.6C1107.2,1008.3 1107.4,1009.9 1107.6,1011.6C1107.9,1013.3 1108.1,1014.9 1108.3,1016.6C1108.5,1018.2 1108.8,1019.9 1109.0,1021.5C1109.2,1023.2 1109.5,1024.8 1109.7,1026.5C1109.9,1028.1 1110.1,1029.8 1110.4,1031.4C1110.6,1033.1 1110.8,1034.7 1111.1,1036.4C1111.3,1038.0 1111.6,1039.7 1111.8,1041.3C1112.0,1043.0 1112.3,1044.6 1112.5,1046.3C1112.8,1047.9 1113.0,1049.6 1113.3,1051.2C1113.5,1052.9 1113.7,1054.5 1114.0,1056.2C1114.2,1057.8 1114.5,1059.4 1114.7,1061.1C1115.0,1062.7 1115.3,1064.4 1115.5,1066.0C1115.8,1067.6 1116.0,1069.3 1116.3,1070.9C1116.6,1072.6 1116.8,1074.2 1117.1,1075.8C1117.4,1077.5 1117.6,1079.1 1117.9,1080.7C1118.2,1082.4 1118.5,1084.0 1118.7,1085.6C1119.0,1087.3 1119.3,1088.9 1119.6,1090.5C1119.9,1092.2 1120.1,1093.8 1120.4,1095.4C1120.7,1097.0 1121.0,1098.7 1121.3,1100.3C1121.6,1101.9 1121.9,1103.5 1122.2,1105.2C1122.5,1106.8 1122.8,1108.4 1123.1,1110.0C1123.4,1111.7 1123.8,1113.3 1124.1,1114.9C1124.4,1116.6 1124.7,1118.2 1125.0,1119.8C1125.4,1121.5 1125.7,1123.1 1126.0,1124.7C1126.3,1126.4 1126.7,1128.0 1127.0,1129.7C1127.4,1131.3 1127.7,1133.0 1128.0,1134.6C1128.4,1136.3 1128.7,1138.0 1129.1,1139.7C1129.5,1141.3 1129.9,1143.0 1130.3,1144.7C1130.7,1146.4 1131.2,1148.2 1131.7,1149.9C1132.3,1151.6 1132.8,1153.4 1133.5,1155.2C1134.1,1156.9 1134.8,1158.7 1135.6,1160.5C1136.4,1162.3 1137.3,1164.1 1138.2,1165.7C1139.1,1167.4 1140.0,1168.8 1141.0,1169.9C1142.0,1170.9 1142.9,1171.7 1143.9,1171.8C1144.8,1172.0 1145.7,1171.7 1146.6,1170.8C1147.5,1170.0 1148.4,1168.8 1149.2,1167.3C1150.1,1165.8 1150.9,1164.1 1151.7,1162.3C1152.4,1160.6 1153.2,1158.7 1153.9,1157.0C1154.6,1155.2 1155.3,1153.4 1155.9,1151.7C1156.6,1149.9 1157.2,1148.2 1157.8,1146.5C1158.4,1144.8 1158.9,1143.1 1159.5,1141.4C1160.0,1139.7 1160.5,1138.0 1161.1,1136.3C1161.6,1134.7 1162.0,1133.0 1162.5,1131.4C1163.0,1129.7 1163.4,1128.1 1163.8,1126.5C1164.3,1124.9 1164.7,1123.2 1165.1,1121.6C1165.5,1120.0 1165.9,1118.4 1166.3,1116.8C1166.6,1115.2 1167.0,1113.6 1167.4,1112.0C1167.8,1110.4 1168.1,1108.8 1168.5,1107.2C1168.8,1105.6 1169.2,1104.0 1169.5,1102.4C1169.9,1100.9 1170.2,1099.3 1170.6,1097.7C1170.9,1096.1 1171.3,1094.5 1171.6,1092.9C1172.0,1091.3 1172.4,1089.7 1172.7,1088.1C1173.1,1086.5 1173.4,1084.9 1173.8,1083.3C1174.2,1081.7 1174.5,1080.0 1174.9,1078.4C1175.3,1076.8 1175.6,1075.2 1176.0,1073.6C1176.3,1072.0 1176.7,1070.4 1177.1,1068.7C1177.5,1067.1 1177.8,1065.5 1178.2,1063.9C1178.6,1062.3 1178.9,1060.6 1179.3,1059.0C1179.7,1057.4 1180.0,1055.8 1180.4,1054.1C1180.8,1052.5 1181.1,1050.9 1181.5,1049.3C1181.9,1047.6 1182.3,1046.0 1182.6,1044.4C1183.0,1042.7 1183.4,1041.1 1183.7,1039.5C1184.1,1037.8 1184.5,1036.2 1184.8,1034.6C1185.2,1032.9 1185.6,1031.3 1185.9,1029.7C1186.3,1028.0 1186.7,1026.4 1187.0,1024.7C1187.4,1023.1 1187.8,1021.5 1188.1,1019.8C1188.5,1018.2 1188.9,1016.6 1189.2,1014.9C1189.6,1013.3 1189.9,1011.6 1190.3,1010.0C1190.7,1008.4 1191.0,1006.7 1191.4,1005.1C1191.7,1003.4 1192.1,1001.8 1192.4,1000.2C1192.8,998.5 1193.1,996.9 1193.5,995.2C1193.8,993.6 1194.2,992.0 1194.5,990.3C1194.9,988.7 1195.2,987.0 1195.5,985.4C1195.9,983.8 1196.2,982.1 1196.6,980.5C1196.9,978.9 1197.2,977.2 1197.6,975.6C1197.9,973.9 1198.2,972.3 1198.6,970.7C1198.9,969.0 1199.2,967.4 1199.5,965.8C1199.9,964.1 1200.2,962.5 1200.5,960.9C1200.9,959.2 1201.2,957.6 1201.5,956.0C1201.8,954.3 1202.2,952.7 1202.5,951.1C1202.8,949.4 1203.2,947.8 1203.5,946.2C1203.8,944.5 1204.2,942.9 1204.5,941.3C1204.8,939.6 1205.2,938.0 1205.5,936.4C1205.8,934.8 1206.2,933.1 1206.5,931.5C1206.9,929.9 1207.2,928.2 1207.6,926.6C1207.9,925.0 1208.2,923.4 1208.6,921.7C1208.9,920.1 1209.3,918.5 1209.7,916.9C1210.0,915.2 1210.4,913.6 1210.7,912.0C1211.1,910.4 1211.5,908.7 1211.8,907.1C1212.2,905.5 1212.6,903.9 1213.0,902.2C1213.3,900.6 1213.7,899.0 1214.1,897.4C1214.5,895.8 1214.9,894.1 1215.3,892.5C1215.6,890.9 1216.0,889.3 1216.4,887.7C1216.8,886.0 1217.2,884.4 1217.6,882.8C1218.0,881.2 1218.4,879.6 1218.8,877.9C1219.2,876.3 1219.6,874.7 1220.0,873.1C1220.4,871.5 1220.8,869.9 1221.2,868.2C1221.6,866.6 1222.0,865.0 1222.4,863.4C1222.9,861.8 1223.3,860.2 1223.7,858.5C1224.1,856.9 1224.5,855.3 1224.9,853.7C1225.3,852.1 1225.8,850.5 1226.2,848.8C1226.6,847.2 1227.0,845.6 1227.4,844.0C1227.9,842.4 1228.3,840.8 1228.7,839.1C1229.1,837.5 1229.5,835.9 1230.0,834.3C1230.4,832.7 1230.8,831.1 1231.2,829.5C1231.7,827.8 1232.1,826.2 1232.5,824.6C1232.9,823.0 1233.3,821.4 1233.8,819.8C1234.2,818.1 1234.6,816.5 1235.0,814.9C1235.5,813.3 1235.9,811.7 1236.3,810.1C1236.7,808.5 1237.1,806.8 1237.6,805.2C1238.0,803.6 1238.4,802.0 1238.8,800.4C1239.2,798.8 1239.7,797.1 1240.1,795.5C1240.5,793.9 1240.9,792.3 1241.3,790.7C1241.7,789.1 1242.2,787.4 1242.6,785.8C1243.0,784.2 1243.4,782.6 1243.8,781.0C1244.2,779.3 1244.6,777.7 1245.0,776.1C1245.4,774.5 1245.9,772.9 1246.3,771.3C1246.7,769.6 1247.1,768.0 1247.5,766.4C1247.9,764.8 1248.3,763.2 1248.7,761.5C1249.0,759.9 1249.4,758.3 1249.8,756.7C1250.2,755.0 1250.6,753.4 1251.0,751.8C1251.4,750.2 1251.8,748.6 1252.2,746.9C1252.6,745.3 1252.9,743.7 1253.3,742.1C1253.7,740.4 1254.1,738.8 1254.5,737.2C1254.8,735.6 1255.2,733.9 1255.6,732.3C1256.0,730.7 1256.4,729.1 1256.7,727.4C1257.1,725.8 1257.5,724.2 1257.8,722.6C1258.2,720.9 1258.6,719.3 1259.0,717.7C1259.3,716.1 1259.7,714.4 1260.1,712.8C1260.4,711.2 1260.8,709.6 1261.2,707.9C1261.5,706.3 1261.9,704.7 1262.3,703.1C1262.6,701.4 1263.0,699.8 1263.3,698.2C1263.7,696.5 1264.1,694.9 1264.4,693.3C1264.8,691.7 1265.2,690.0 1265.5,688.4C1265.9,686.8 1266.2,685.2 1266.6,683.5C1267.0,681.9 1267.3,680.3 1267.7,678.6C1268.0,677.0 1268.4,675.4 1268.8,673.8C1269.1,672.1 1269.5,670.5 1269.8,668.9C1270.2,667.2 1270.5,665.6 1270.9,664.0C1271.3,662.4 1271.6,660.7 1272.0,659.1C1272.3,657.5 1272.7,655.8 1273.0,654.2C1273.4,652.6 1273.8,651.0 1274.1,649.3C1274.5,647.7 1274.8,646.1 1275.2,644.4C1275.5,642.8 1275.9,641.2 1276.3,639.6C1276.6,637.9 1277.0,636.3 1277.3,634.7C1277.7,633.0 1278.1,631.4 1278.4,629.8C1278.8,628.2 1279.2,626.5 1279.5,624.9C1279.9,623.3 1280.2,621.7 1280.6,620.0C1281.0,618.4 1281.3,616.8 1281.7,615.1C1282.1,613.5 1282.4,611.9 1282.8,610.3C1283.2,608.6 1283.5,607.0 1283.9,605.4C1284.3,603.8 1284.6,602.1 1285.0,600.5C1285.4,598.9 1285.8,597.2 1286.1,595.6C1286.5,594.0 1286.9,592.4 1287.3,590.7C1287.6,589.1 1288.0,587.5 1288.4,585.9C1288.8,584.2 1289.1,582.6 1289.5,581.0C1289.9,579.4 1290.3,577.7 1290.7,576.1C1291.1,574.5 1291.4,572.9 1291.8,571.3C1292.2,569.6 1292.6,568.0 1293.0,566.4C1293.4,564.8 1293.8,563.1 1294.2,561.5C1294.6,559.9 1294.9,558.3 1295.3,556.6C1295.7,555.0 1296.1,553.4 1296.5,551.8C1296.9,550.2 1297.3,548.5 1297.7,546.9C1298.1,545.3 1298.5,543.7 1298.9,542.0C1299.3,540.4 1299.7,538.8 1300.1,537.2C1300.5,535.6 1300.9,533.9 1301.3,532.3C1301.7,530.7 1302.1,529.1 1302.5,527.5C1302.9,525.8 1303.3,524.2 1303.7,522.6C1304.1,521.0 1304.6,519.4 1305.0,517.8C1305.4,516.1 1305.8,514.5 1306.2,512.9C1306.6,511.3 1307.0,509.7 1307.4,508.0C1307.8,506.4 1308.2,504.8 1308.6,503.2C1309.1,501.6 1309.5,500.0 1309.9,498.3C1310.3,496.7 1310.7,495.1 1311.1,493.5C1311.5,491.9 1312.0,490.2 1312.4,488.6C1312.8,487.0 1313.2,485.4 1313.6,483.8C1314.0,482.2 1314.5,480.6 1314.9,478.9C1315.3,477.3 1315.7,475.7 1316.2,474.1C1316.6,472.5 1317.0,470.9 1317.4,469.3C1317.9,467.7 1318.3,466.1 1318.8,464.4C1319.2,462.8 1319.7,461.2 1320.1,459.6C1320.6,458.0 1321.0,456.4 1321.5,454.8C1321.9,453.2 1322.4,451.6 1322.9,450.0C1323.4,448.4 1323.8,446.8 1324.3,445.2C1324.8,443.7 1325.3,442.1 1325.8,440.5C1326.3,438.9 1326.8,437.3 1327.3,435.7C1327.9,434.1 1328.4,432.6 1328.9,431.0C1329.5,429.4 1330.0,427.8 1330.6,426.3C1331.1,424.7 1331.7,423.1 1332.2,421.6C1332.8,420.0 1333.4,418.5 1334.0,416.9C1334.6,415.3 1335.2,413.8 1335.8,412.2C1336.4,410.7 1337.1,409.2 1337.7,407.6C1338.3,406.1 1339.0,404.5 1339.7,403.0C1340.3,401.5 1341.0,400.0 1341.7,398.4C1342.4,396.9 1343.1,395.4 1343.8,393.9C1344.5,392.4 1345.2,390.9 1346.0,389.4C1346.7,387.9 1347.4,386.4 1348.2,384.9C1349.0,383.4 1349.7,381.9 1350.5,380.4C1351.3,379.0 1352.1,377.5 1352.9,376.0C1353.7,374.6 1354.6,373.1 1355.4,371.7C1356.2,370.2 1357.1,368.8 1358.0,367.3C1358.8,365.9 1359.7,364.5 1360.6,363.1C1361.5,361.6 1362.4,360.2 1363.3,358.8C1364.2,357.4 1365.1,356.0 1366.1,354.7C1367.0,353.3 1368.0,351.9 1368.9,350.5C1369.9,349.2 1370.9,347.8 1371.8,346.5C1372.8,345.1 1373.8,343.8 1374.8,342.5C1375.9,341.1 1376.9,339.8 1377.9,338.5C1379.0,337.2 1380.0,335.9 1381.1,334.6C1382.1,333.3 1383.2,332.1 1384.3,330.8C1385.4,329.6 1386.5,328.3 1387.6,327.1C1388.7,325.8 1389.9,324.6 1391.0,323.4C1392.1,322.2 1393.3,321.0 1394.5,319.8C1395.6,318.6 1396.8,317.4 1398.0,316.3C1399.2,315.1 1400.4,314.0 1401.6,312.8C1402.8,311.7 1404.1,310.6 1405.3,309.4C1406.6,308.3 1407.8,307.2 1409.1,306.2C1410.4,305.1 1411.6,304.0 1412.9,303.0C1414.2,301.9 1415.5,300.9 1416.9,299.9C1418.2,298.8 1419.5,297.8 1420.9,296.8C1422.2,295.9 1423.6,294.9 1425.0,293.9C1426.3,293.0 1427.7,292.0 1429.1,291.1C1430.5,290.2 1431.9,289.2 1433.3,288.3C1434.7,287.4 1436.1,286.5 1437.5,285.6C1438.9,284.7 1440.3,283.8 1441.7,282.8C1443.2,281.9 1444.5,281.0 1445.9,280.1C1447.3,279.2 1448.7,278.3 1450.1,277.3C1451.5,276.4 1452.8,275.5 1454.2,274.5C1455.5,273.6 1456.9,272.6 1458.2,271.7C1459.6,270.7 1460.9,269.7 1462.3,268.8C1463.6,267.8 1464.9,266.8 1466.3,265.9C1467.6,264.9 1468.9,263.9 1470.3,262.9C1471.6,261.9 1472.9,260.9 1474.2,259.9C1475.5,259.0 1476.9,258.0 1478.2,257.0C1479.5,256.0 1480.8,255.0 1482.1,253.9C1483.5,252.9 1484.8,251.9 1486.1,250.9C1487.4,249.9 1488.7,248.9 1490.1,247.9C1491.4,246.9 1492.7,245.9 1494.0,244.8C1495.4,243.8 1496.7,242.8 1498.0,241.8C1499.4,240.8 1500.7,239.8 1502.0,238.7C1503.4,237.7 1504.7,236.7 1506.0,235.7C1507.4,234.7 1508.7,233.7 1510.0,232.7C1511.4,231.6 1512.7,230.6 1514.1,229.6C1515.4,228.6 1516.8,227.6 1518.1,226.6C1519.5,225.6 1520.8,224.6 1522.2,223.6C1523.5,222.6 1524.9,221.7 1526.2,220.7C1527.6,219.7 1529.0,218.7 1530.3,217.7C1531.7,216.8 1533.1,215.8 1534.4,214.8C1535.8,213.9 1537.2,212.9 1538.6,212.0C1540.0,211.0 1541.3,210.1 1542.7,209.1C1544.1,208.2 1545.5,207.3 1546.9,206.3C1548.3,205.4 1549.7,204.5 1551.1,203.6C1552.5,202.7 1553.9,201.8 1555.4,200.9C1556.8,200.0 1558.2,199.1 1559.6,198.3C1561.0,197.4 1562.5,196.6 1563.9,195.7C1565.3,194.9 1566.8,194.0 1568.2,193.2C1569.7,192.4 1571.1,191.6 1572.6,190.8C1574.0,190.0 1575.5,189.2 1577.0,188.4C1578.4,187.6 1579.9,186.9 1581.4,186.1C1582.9,185.4 1584.4,184.6 1585.9,183.9C1587.3,183.2 1588.8,182.5 1590.3,181.8C1591.9,181.1 1593.4,180.4 1594.9,179.8C1596.4,179.1 1597.9,178.5 1599.5,177.8C1601.0,177.2 1602.5,176.6 1604.1,176.0C1605.6,175.4 1607.2,174.8 1608.7,174.2C1610.3,173.7 1611.9,173.1 1613.4,172.6C1615.0,172.1 1616.6,171.5 1618.2,171.0C1619.7,170.5 1621.3,170.1 1622.9,169.6C1624.5,169.1 1626.1,168.7 1627.7,168.2C1629.3,167.8 1631.0,167.4 1632.6,167.0C1634.2,166.5 1635.8,166.2 1637.4,165.8C1639.1,165.4 1640.7,165.0 1642.3,164.7C1644.0,164.3 1645.6,164.0 1647.2,163.7C1648.9,163.3 1650.5,163.0 1652.2,162.7C1653.8,162.4 1655.5,162.2 1657.1,161.9C1658.8,161.6 1660.4,161.4 1662.1,161.1C1663.7,160.9 1665.4,160.7 1667.1,160.5C1668.7,160.2 1670.4,160.0 1672.0,159.8C1673.7,159.7 1675.4,159.5 1677.0,159.3C1678.7,159.1 1680.4,159.0 1682.1,158.8C1683.7,158.7 1685.4,158.6 1687.1,158.5C1688.7,158.3 1690.4,158.2 1692.1,158.1C1693.7,158.0 1695.4,158.0 1697.1,157.9C1698.8,157.8 1700.4,157.8 1702.1,157.7C1703.8,157.7 1705.4,157.6 1707.1,157.6C1708.8,157.5 1710.4,157.5 1712.1,157.5C1713.8,157.5 1715.4,157.5 1717.1,157.5C1718.8,157.5 1720.4,157.5 1722.1,157.5C1723.8,157.5 1725.4,157.5 1727.1,157.5C1728.8,157.5 1730.4,157.5 1732.1,157.6C1733.8,157.6 1735.4,157.6 1737.1,157.6C1738.8,157.6 1740.4,157.7 1742.1,157.7C1743.7,157.7 1745.4,157.7 1747.1,157.7C1748.7,157.8 1750.4,157.8 1752.1,157.8C1753.7,157.8 1755.4,157.8 1757.1,157.8C1758.7,157.8 1760.4,157.8 1762.0,157.8C1763.7,157.8 1765.4,157.7 1767.0,157.7C1768.7,157.7 1770.4,157.7 1772.0,157.6C1773.7,157.6 1775.4,157.5 1777.0,157.4C1778.7,157.4 1780.4,157.3 1782.0,157.2C1783.7,157.1 1785.4,157.0 1787.0,156.9C1788.7,156.8 1790.3,156.7 1792.0,156.6C1793.7,156.5 1795.3,156.3 1797.0,156.2C1798.7,156.1 1800.3,155.9 1802.0,155.8C1803.7,155.6 1805.3,155.5 1807.0,155.3C1808.7,155.1 1810.3,155.0 1812.0,154.8C1813.7,154.7 1815.4,154.5 1817.0,154.3C1818.7,154.1 1820.4,154.0 1822.0,153.8C1823.7,153.6 1825.4,153.5 1827.0,153.3C1828.7,153.1 1830.4,153.0 1832.0,152.8C1833.7,152.6 1835.4,152.5 1837.0,152.3C1838.7,152.1 1840.4,152.0 1842.0,151.8C1843.7,151.7 1845.4,151.5 1847.0,151.4C1848.7,151.3 1850.4,151.1 1852.0,151.0C1853.7,150.9 1855.4,150.7 1857.0,150.6C1858.7,150.5 1860.4,150.4 1862.0,150.3C1863.7,150.2 1865.4,150.1 1867.0,150.0C1868.7,149.9 1870.4,149.8 1872.0,149.8C1873.7,149.7 1875.4,149.6 1877.0,149.5C1878.7,149.5 1880.4,149.4 1882.0,149.3C1883.7,149.3 1885.4,149.2 1887.0,149.2C1888.7,149.1 1890.4,149.1 1892.0,149.0C1893.7,149.0 1895.4,148.9 1897.0,148.9C1898.7,148.8 1900.3,148.8 1902.0,148.8C1903.7,148.7 1905.3,148.7 1907.0,148.7C1908.7,148.6 1910.3,148.6 1912.0,148.6C1913.7,148.5 1915.3,148.5 1917.0,148.5C1918.7,148.5 1920.3,148.4 1922.0,148.4C1923.7,148.4 1925.3,148.3 1927.0,148.3C1928.7,148.3 1930.3,148.3 1932.0,148.2C1933.7,148.2 1935.3,148.2 1937.0,148.1C1938.7,148.1 1940.3,148.1 1942.0,148.0C1943.7,148.0 1945.3,147.9 1947.0,147.9C1948.7,147.9 1950.3,147.8 1952.0,147.8C1953.7,147.7 1955.3,147.7 1957.0,147.6C1958.7,147.6 1960.3,147.5 1962.0,147.4C1963.7,147.4 1965.3,147.3 1967.0,147.2C1968.7,147.2 1970.3,147.1 1972.0,147.0C1973.7,146.9 1975.3,146.8 1977.0,146.7C1978.7,146.6 1980.3,146.5 1982.0,146.4C1983.7,146.3 1985.3,146.2 1987.0,146.1C1988.7,146.0 1990.3,145.8 1992.0,145.7C1993.7,145.6 1995.4,145.4 1997.0,145.3" stroke="#ED1C24" stroke-width="8"/>
<path d="M1445.5,285 L1445.5,297" stroke="#ED1C24" stroke-width="8"/>
<path d="M346.0,99.5C347.7,99.5 349.4,99.5 351.0,99.6C352.7,99.6 354.3,99.6 356.0,99.6C357.7,99.6 359.3,99.7 361.0,99.7C362.6,99.7 364.3,99.7 366.0,99.7C367.6,99.8 369.3,99.8 371.0,99.8C372.6,99.8 374.3,99.9 376.0,99.9C377.6,99.9 379.3,100.0 381.0,100.0C382.6,100.0 384.3,100.1 386.0,100.1C387.6,100.1 389.3,100.2 391.0,100.2C392.7,100.3 394.3,100.3 396.0,100.3C397.7,100.4 399.3,100.4 401.0,100.5C402.7,100.5 404.3,100.6 406.0,100.6C407.7,100.7 409.4,100.7 411.0,100.8C412.7,100.9 414.4,100.9 416.1,101.0C417.7,101.0 419.4,101.1 421.1,101.2C422.7,101.2 424.4,101.3 426.1,101.4C427.8,101.5 429.4,101.5 431.1,101.6C432.8,101.7 434.4,101.8 436.1,101.9C437.8,102.0 439.5,102.0 441.1,102.1C442.8,102.2 444.5,102.3 446.1,102.4C447.8,102.5 449.5,102.6 451.1,102.7C452.8,102.8 454.5,102.9 456.2,103.1C457.8,103.2 459.5,103.3 461.2,103.4C462.8,103.5 464.5,103.7 466.1,103.8C467.8,103.9 469.5,104.0 471.1,104.2C472.8,104.3 474.5,104.5 476.1,104.6C477.8,104.8 479.5,104.9 481.1,105.1C482.8,105.2 484.4,105.4 486.1,105.5C487.8,105.7 489.4,105.9 491.1,106.0C492.7,106.2 494.4,106.4 496.0,106.6C497.7,106.7 499.3,106.9 501.0,107.1C502.6,107.3 504.3,107.5 505.9,107.7C507.6,107.9 509.2,108.1 510.9,108.3C512.5,108.5 514.2,108.7 515.8,109.0C517.5,109.2 519.1,109.4 520.8,109.7C522.4,109.9 524.0,110.1 525.7,110.4C527.3,110.6 529.0,110.9 530.6,111.1C532.3,111.4 533.9,111.6 535.5,111.9C537.2,112.2 538.8,112.4 540.5,112.7C542.1,113.0 543.7,113.3 545.4,113.6C547.0,113.9 548.7,114.2 550.3,114.5C551.9,114.8 553.6,115.1 555.2,115.4C556.8,115.7 558.5,116.0 560.1,116.4C561.7,116.7 563.4,117.0 565.0,117.4C566.7,117.7 568.3,118.1 569.9,118.4C571.6,118.8 573.2,119.1 574.8,119.5C576.5,119.9 578.1,120.3 579.7,120.6C581.4,121.0 583.0,121.4 584.6,121.8C586.3,122.2 587.9,122.6 589.5,123.1C591.2,123.5 592.8,123.9 594.4,124.4C596.1,124.8 597.7,125.3 599.3,125.7C600.9,126.2 602.5,126.7 604.1,127.2C605.7,127.7 607.3,128.2 608.9,128.7C610.5,129.2 612.1,129.8 613.7,130.3C615.2,130.9 616.8,131.5 618.4,132.1C619.9,132.7 621.5,133.3 623.0,134.0C624.6,134.6 626.1,135.3 627.6,136.0C629.1,136.6 630.6,137.4 632.1,138.1C633.6,138.8 635.1,139.6 636.5,140.4C638.0,141.2 639.4,142.0 640.9,142.8C642.3,143.6 643.7,144.5 645.1,145.4C646.5,146.3 647.9,147.2 649.2,148.2C650.6,149.1 652.0,150.1 653.3,151.1C654.6,152.1 655.9,153.1 657.2,154.1C658.5,155.2 659.8,156.2 661.1,157.3C662.3,158.4 663.6,159.5 664.8,160.6C666.1,161.8 667.3,162.9 668.5,164.1C669.7,165.2 670.9,166.4 672.0,167.6C673.2,168.8 674.3,170.0 675.5,171.3C676.6,172.5 677.7,173.7 678.8,175.0C679.9,176.2 681.0,177.5 682.1,178.8C683.1,180.1 684.2,181.4 685.2,182.7C686.3,184.0 687.3,185.3 688.3,186.6C689.3,188.0 690.3,189.3 691.2,190.7C692.2,192.0 693.1,193.4 694.1,194.7C695.0,196.1 695.9,197.5 696.8,198.9C697.7,200.3 698.6,201.7 699.5,203.1C700.4,204.5 701.2,205.9 702.1,207.3C702.9,208.8 703.7,210.2 704.6,211.6C705.4,213.1 706.2,214.5 707.0,216.0C707.8,217.4 708.5,218.9 709.3,220.4C710.1,221.9 710.8,223.3 711.5,224.8C712.3,226.3 713.0,227.8 713.7,229.3C714.4,230.8 715.1,232.3 715.8,233.9C716.5,235.4 717.2,236.9 717.8,238.4C718.5,240.0 719.1,241.5 719.8,243.0C720.4,244.6 721.1,246.1 721.7,247.7C722.3,249.2 722.9,250.8 723.5,252.3C724.1,253.9 724.7,255.5 725.3,257.0C725.8,258.6 726.4,260.2 727.0,261.8C727.5,263.3 728.1,264.9 728.6,266.5C729.1,268.1 729.7,269.7 730.2,271.3C730.7,272.9 731.2,274.5 731.7,276.1C732.2,277.7 732.7,279.3 733.2,280.9C733.7,282.5 734.2,284.1 734.7,285.7C735.1,287.3 735.6,288.9 736.1,290.5C736.5,292.1 737.0,293.7 737.4,295.4C737.9,297.0 738.3,298.6 738.7,300.2C739.2,301.8 739.6,303.4 740.0,305.1C740.4,306.7 740.9,308.3 741.3,309.9C741.7,311.5 742.1,313.2 742.5,314.8C742.9,316.4 743.3,318.0 743.6,319.7C744.0,321.3 744.4,322.9 744.8,324.5C745.2,326.2 745.5,327.8 745.9,329.4C746.2,331.1 746.6,332.7 747.0,334.3C747.3,336.0 747.7,337.6 748.0,339.2C748.3,340.8 748.7,342.5 749.0,344.1C749.3,345.8 749.7,347.4 750.0,349.0C750.3,350.7 750.6,352.3 750.9,353.9C751.2,355.6 751.5,357.2 751.8,358.8C752.1,360.5 752.4,362.1 752.7,363.8C753.0,365.4 753.3,367.0 753.6,368.7C753.9,370.3 754.1,372.0 754.4,373.6C754.7,375.3 755.0,376.9 755.2,378.5C755.5,380.2 755.8,381.8 756.0,383.5C756.3,385.1 756.5,386.8 756.8,388.4C757.0,390.1 757.3,391.7 757.5,393.4C757.7,395.0 758.0,396.7 758.2,398.3C758.5,400.0 758.7,401.6 758.9,403.3C759.1,404.9 759.4,406.6 759.6,408.2C759.8,409.9 760.0,411.5 760.2,413.2C760.4,414.8 760.7,416.5 760.9,418.1C761.1,419.8 761.3,421.4 761.5,423.1C761.7,424.8 761.9,426.4 762.1,428.1C762.3,429.7 762.5,431.4 762.6,433.0C762.8,434.7 763.0,436.3 763.2,438.0C763.4,439.7 763.6,441.3 763.7,443.0C763.9,444.6 764.1,446.3 764.3,448.0C764.5,449.6 764.6,451.3 764.8,452.9C765.0,454.6 765.1,456.3 765.3,457.9C765.5,459.6 765.6,461.2 765.8,462.9C766.0,464.6 766.1,466.2 766.3,467.9C766.4,469.5 766.6,471.2 766.7,472.9C766.9,474.5 767.1,476.2 767.2,477.8C767.4,479.5 767.5,481.2 767.7,482.8C767.8,484.5 768.0,486.2 768.1,487.8C768.2,489.5 768.4,491.1 768.5,492.8C768.7,494.5 768.8,496.1 769.0,497.8C769.1,499.5 769.2,501.1 769.4,502.8C769.5,504.5 769.7,506.1 769.8,507.8C769.9,509.4 770.1,511.1 770.2,512.8C770.4,514.4 770.5,516.1 770.6,517.8C770.8,519.4 770.9,521.1 771.0,522.8C771.2,524.4 771.3,526.1 771.5,527.7C771.6,529.4 771.7,531.1 771.9,532.7C772.0,534.4 772.1,536.1 772.3,537.7C772.4,539.4 772.5,541.1 772.7,542.7C772.8,544.4 772.9,546.0 773.1,547.7C773.2,549.4 773.3,551.0 773.5,552.7C773.6,554.4 773.7,556.0 773.9,557.7C774.0,559.4 774.1,561.0 774.3,562.7C774.4,564.3 774.6,566.0 774.7,567.7C774.8,569.3 775.0,571.0 775.1,572.7C775.2,574.3 775.4,576.0 775.5,577.7C775.6,579.3 775.8,581.0 775.9,582.6C776.0,584.3 776.2,586.0 776.3,587.6C776.4,589.3 776.6,591.0 776.7,592.6C776.8,594.3 777.0,595.9 777.1,597.6C777.2,599.3 777.4,600.9 777.5,602.6C777.6,604.3 777.8,605.9 777.9,607.6C778.0,609.3 778.1,610.9 778.3,612.6C778.4,614.2 778.5,615.9 778.7,617.6C778.8,619.2 778.9,620.9 779.1,622.6C779.2,624.2 779.3,625.9 779.5,627.5C779.6,629.2 779.7,630.9 779.9,632.5C780.0,634.2 780.1,635.9 780.3,637.5C780.4,639.2 780.5,640.9 780.6,642.5C780.8,644.2 780.9,645.8 781.0,647.5C781.2,649.2 781.3,650.8 781.4,652.5C781.6,654.2 781.7,655.8 781.8,657.5C781.9,659.1 782.1,660.8 782.2,662.5C782.3,664.1 782.5,665.8 782.6,667.5C782.7,669.1 782.8,670.8 783.0,672.5C783.1,674.1 783.2,675.8 783.4,677.4C783.5,679.1 783.6,680.8 783.7,682.4C783.9,684.1 784.0,685.8 784.1,687.4C784.3,689.1 784.4,690.7 784.5,692.4C784.6,694.1 784.8,695.7 784.9,697.4C785.0,699.1 785.1,700.7 785.3,702.4C785.4,704.1 785.5,705.7 785.6,707.4C785.8,709.0 785.9,710.7 786.0,712.4C786.1,714.0 786.3,715.7 786.4,717.4C786.5,719.0 786.6,720.7 786.8,722.4C786.9,724.0 787.0,725.7 787.1,727.3C787.3,729.0 787.4,730.7 787.5,732.3C787.6,734.0 787.8,735.7 787.9,737.3C788.0,739.0 788.1,740.7 788.2,742.3C788.4,744.0 788.5,745.6 788.6,747.3C788.7,749.0 788.9,750.6 789.0,752.3C789.1,754.0 789.2,755.6 789.3,757.3C789.5,759.0 789.6,760.6 789.7,762.3C789.8,764.0 790.0,765.6 790.1,767.3C790.2,768.9 790.3,770.6 790.4,772.3C790.6,773.9 790.7,775.6 790.8,777.3C790.9,778.9 791.0,780.6 791.1,782.3C791.3,783.9 791.4,785.6 791.5,787.3C791.6,788.9 791.7,790.6 791.9,792.2C792.0,793.9 792.1,795.6 792.2,797.2C792.3,798.9 792.4,800.6 792.6,802.2C792.7,803.9 792.8,805.6 792.9,807.2C793.0,808.9 793.1,810.6 793.3,812.2C793.4,813.9 793.5,815.6 793.6,817.2C793.7,818.9 793.8,820.6 793.9,822.2C794.1,823.9 794.2,825.6 794.3,827.2C794.4,828.9 794.5,830.5 794.6,832.2C794.7,833.9 794.9,835.5 795.0,837.2C795.1,838.9 795.2,840.5 795.3,842.2C795.4,843.9 795.5,845.5 795.6,847.2C795.7,848.9 795.9,850.5 796.0,852.2C796.1,853.9 796.2,855.5 796.3,857.2C796.4,858.9 796.5,860.5 796.6,862.2C796.7,863.9 796.8,865.5 797.0,867.2C797.1,868.9 797.2,870.5 797.3,872.2C797.4,873.9 797.5,875.5 797.6,877.2C797.7,878.9 797.8,880.5 797.9,882.2C798.0,883.9 798.1,885.5 798.2,887.2C798.4,888.9 798.5,890.6 798.6,892.2C798.7,893.9 798.8,895.6 798.9,897.2C799.0,898.9 799.1,900.6 799.2,902.2C799.3,903.9 799.4,905.6 799.5,907.2C799.6,908.9 799.7,910.6 799.8,912.2C799.9,913.9 800.0,915.6 800.1,917.2C800.2,918.9 800.3,920.6 800.4,922.2C800.5,923.9 800.6,925.6 800.7,927.3C800.8,928.9 800.9,930.6 801.0,932.3C801.1,933.9 801.2,935.6 801.3,937.3C801.4,938.9 801.5,940.6 801.6,942.3C801.7,943.9 801.8,945.6 801.9,947.3C802.0,948.9 802.2,950.6 802.3,952.3C802.4,953.9 802.5,955.6 802.6,957.2C802.8,958.9 802.9,960.5 803.1,962.1C803.2,963.8 803.4,965.4 803.6,967.0C803.8,968.6 803.9,970.2 804.2,971.8C804.4,973.4 804.6,975.0 804.8,976.6C805.1,978.2 805.3,979.7 805.6,981.3C805.9,982.9 806.2,984.5 806.5,986.1C806.8,987.8 807.2,989.5 807.5,991.2C807.8,992.9 808.2,994.7 808.6,996.6C808.9,998.5 809.3,1000.5 809.7,1002.5C810.1,1004.6 810.5,1006.8 811.0,1008.7C811.4,1010.6 811.9,1012.3 812.3,1013.3C812.8,1014.3 813.4,1014.7 813.9,1014.2C814.5,1013.7 815.1,1012.5 815.7,1010.8C816.2,1009.2 816.8,1007.1 817.3,1005.0C817.8,1003.0 818.3,1000.9 818.7,998.9C819.1,997.0 819.4,995.1 819.7,993.3C820.0,991.6 820.2,989.8 820.5,988.2C820.7,986.5 820.9,984.9 821.0,983.3C821.2,981.7 821.4,980.1 821.5,978.5C821.7,977.0 821.9,975.4 822.0,973.8C822.2,972.2 822.4,970.6 822.6,969.0C822.8,967.4 822.9,965.8 823.1,964.2C823.3,962.5 823.5,960.9 823.7,959.2C823.9,957.6 824.1,955.9 824.3,954.3C824.5,952.6 824.8,951.0 825.0,949.3C825.2,947.6 825.3,946.0 825.5,944.3C825.7,942.6 825.9,940.9 826.1,939.3C826.3,937.6 826.4,935.9 826.6,934.2C826.8,932.6 826.9,930.9 827.1,929.2C827.2,927.6 827.4,925.9 827.5,924.2C827.6,922.5 827.8,920.9 827.9,919.2C828.0,917.5 828.1,915.9 828.2,914.2C828.4,912.5 828.5,910.8 828.6,909.2C828.7,907.5 828.8,905.8 828.9,904.2C829.0,902.5 829.1,900.8 829.2,899.2C829.2,897.5 829.3,895.8 829.4,894.2C829.5,892.5 829.6,890.8 829.7,889.2C829.7,887.5 829.8,885.8 829.9,884.2C830.0,882.5 830.1,880.8 830.1,879.2C830.2,877.5 830.3,875.8 830.4,874.2C830.5,872.5 830.5,870.8 830.6,869.2C830.7,867.5 830.8,865.8 830.9,864.2C830.9,862.5 831.0,860.8 831.1,859.2C831.2,857.5 831.3,855.8 831.4,854.2C831.5,852.5 831.6,850.9 831.7,849.2C831.8,847.5 831.9,845.9 832.0,844.2C832.1,842.5 832.2,840.9 832.3,839.2C832.4,837.5 832.5,835.9 832.6,834.2C832.7,832.6 832.8,830.9 833.0,829.2C833.1,827.6 833.2,825.9 833.3,824.2C833.4,822.6 833.6,820.9 833.7,819.3C833.8,817.6 833.9,815.9 834.1,814.3C834.2,812.6 834.3,810.9 834.4,809.3C834.6,807.6 834.7,806.0 834.8,804.3C835.0,802.6 835.1,801.0 835.3,799.3C835.4,797.6 835.5,796.0 835.7,794.3C835.8,792.7 835.9,791.0 836.1,789.3C836.2,787.7 836.4,786.0 836.5,784.4C836.7,782.7 836.8,781.0 837.0,779.4C837.1,777.7 837.3,776.0 837.4,774.4C837.6,772.7 837.7,771.1 837.9,769.4C838.0,767.7 838.2,766.1 838.3,764.4C838.5,762.8 838.6,761.1 838.8,759.4C839.0,757.8 839.1,756.1 839.3,754.5C839.4,752.8 839.6,751.1 839.8,749.5C839.9,747.8 840.1,746.1 840.2,744.5C840.4,742.8 840.6,741.2 840.7,739.5C840.9,737.8 841.0,736.2 841.2,734.5C841.4,732.9 841.5,731.2 841.7,729.5C841.9,727.9 842.0,726.2 842.2,724.6C842.4,722.9 842.5,721.2 842.7,719.6C842.9,717.9 843.0,716.2 843.2,714.6C843.4,712.9 843.5,711.3 843.7,709.6C843.9,707.9 844.0,706.3 844.2,704.6C844.3,703.0 844.5,701.3 844.7,699.6C844.8,698.0 845.0,696.3 845.2,694.6C845.3,693.0 845.5,691.3 845.7,689.7C845.8,688.0 846.0,686.3 846.2,684.7C846.3,683.0 846.5,681.4 846.7,679.7C846.8,678.0 847.0,676.4 847.1,674.7C847.3,673.0 847.5,671.4 847.6,669.7C847.8,668.1 848.0,666.4 848.1,664.7C848.3,663.1 848.4,661.4 848.6,659.7C848.7,658.1 848.9,656.4 849.1,654.7C849.2,653.1 849.4,651.4 849.5,649.8C849.7,648.1 849.8,646.4 850.0,644.8C850.1,643.1 850.3,641.4 850.4,639.8C850.6,638.1 850.8,636.5 850.9,634.8C851.1,633.1 851.2,631.5 851.4,629.8C851.5,628.1 851.7,626.5 851.8,624.8C852.0,623.1 852.1,621.5 852.3,619.8C852.4,618.2 852.6,616.5 852.8,614.8C852.9,613.2 853.1,611.5 853.2,609.8C853.4,608.2 853.5,606.5 853.7,604.9C853.9,603.2 854.0,601.5 854.2,599.9C854.4,598.2 854.5,596.6 854.7,594.9C854.9,593.2 855.0,591.6 855.2,589.9C855.4,588.3 855.6,586.6 855.7,585.0C855.9,583.3 856.1,581.6 856.3,580.0C856.5,578.3 856.7,576.7 856.9,575.0C857.1,573.4 857.2,571.7 857.4,570.1C857.6,568.4 857.8,566.8 858.0,565.1C858.3,563.4 858.5,561.8 858.7,560.1C858.9,558.5 859.1,556.9 859.3,555.2C859.5,553.6 859.8,551.9 860.0,550.3C860.2,548.6 860.4,547.0 860.7,545.3C860.9,543.7 861.1,542.0 861.4,540.4C861.6,538.7 861.8,537.1 862.1,535.4C862.3,533.8 862.5,532.1 862.8,530.5C863.0,528.8 863.2,527.2 863.5,525.5C863.7,523.9 864.0,522.2 864.2,520.6C864.5,518.9 864.7,517.3 864.9,515.6C865.2,514.0 865.4,512.3 865.7,510.7C865.9,509.0 866.2,507.4 866.4,505.7C866.6,504.0 866.9,502.4 867.1,500.7C867.4,499.1 867.6,497.4 867.9,495.7C868.1,494.1 868.3,492.4 868.6,490.8C868.8,489.1 869.1,487.4 869.3,485.8C869.6,484.1 869.9,482.4 870.1,480.8C870.4,479.1 870.7,477.5 871.1,475.8C871.4,474.2 871.7,472.6 872.1,470.9C872.5,469.3 872.9,467.7 873.3,466.1C873.8,464.5 874.2,462.8 874.8,461.3C875.3,459.7 875.8,458.1 876.4,456.5C877.0,455.0 877.7,453.4 878.4,451.9C879.1,450.3 879.8,448.8 880.6,447.3C881.4,445.8 882.3,444.3 883.2,442.9C884.2,441.4 885.2,440.0 886.2,438.5C887.3,437.1 888.4,435.8 889.6,434.4C890.8,433.1 892.0,431.9 893.2,430.8C894.5,429.6 895.8,428.6 897.2,427.7C898.5,426.7 899.9,425.9 901.2,425.3C902.6,424.7 904.0,424.2 905.5,423.9C906.9,423.6 908.3,423.6 909.7,423.7C911.2,423.8 912.6,424.1 914.0,424.5C915.5,425.0 916.9,425.6 918.3,426.3C919.7,427.1 921.1,427.9 922.5,428.9C923.9,429.9 925.3,431.0 926.7,432.2C928.0,433.3 929.4,434.6 930.7,435.9C932.0,437.2 933.2,438.5 934.5,439.9C935.7,441.3 936.9,442.6 938.1,444.0C939.3,445.4 940.4,446.8 941.5,448.2C942.6,449.7 943.7,451.1 944.7,452.5C945.8,453.9 946.8,455.3 947.7,456.8C948.7,458.2 949.6,459.6 950.5,461.1C951.5,462.5 952.3,464.0 953.2,465.4C954.1,466.9 954.9,468.4 955.7,469.8C956.5,471.3 957.3,472.8 958.0,474.2C958.8,475.7 959.6,477.2 960.3,478.7C961.0,480.2 961.7,481.7 962.4,483.2C963.1,484.7 963.7,486.2 964.4,487.7C965.1,489.2 965.7,490.7 966.3,492.2C967.0,493.7 967.6,495.2 968.2,496.8C968.8,498.3 969.4,499.8 970.0,501.4C970.6,502.9 971.1,504.4 971.7,506.0C972.3,507.5 972.8,509.1 973.4,510.6C973.9,512.2 974.5,513.7 975.0,515.3C975.6,516.8 976.1,518.4 976.6,520.0C977.1,521.5 977.6,523.1 978.1,524.7C978.6,526.2 979.1,527.8 979.6,529.4C980.1,531.0 980.6,532.6 981.0,534.1C981.5,535.7 982.0,537.3 982.4,538.9C982.9,540.5 983.3,542.1 983.8,543.7C984.2,545.3 984.7,546.9 985.1,548.5C985.5,550.1 985.9,551.7 986.4,553.3C986.8,554.9 987.2,556.5 987.6,558.1C988.0,559.7 988.4,561.4 988.8,563.0C989.2,564.6 989.6,566.2 990.0,567.8C990.4,569.4 990.8,571.1 991.2,572.7C991.6,574.3 992.0,575.9 992.3,577.6C992.7,579.2 993.1,580.8 993.5,582.5C993.8,584.1 994.2,585.7 994.6,587.3C994.9,589.0 995.3,590.6 995.6,592.2C996.0,593.9 996.4,595.5 996.7,597.1C997.1,598.8 997.4,600.4 997.8,602.1C998.1,603.7 998.5,605.3 998.9,607.0C999.2,608.6 999.6,610.3 999.9,611.9C1000.3,613.5 1000.6,615.2 1001.0,616.8C1001.3,618.5 1001.7,620.1 1002.0,621.7C1002.4,623.4 1002.7,625.0 1003.1,626.7C1003.4,628.3 1003.8,629.9 1004.1,631.6C1004.5,633.2 1004.8,634.9 1005.2,636.5C1005.5,638.1 1005.9,639.8 1006.2,641.4C1006.6,643.1 1007.0,644.7 1007.3,646.3C1007.7,648.0 1008.1,649.6 1008.4,651.2C1008.8,652.9 1009.2,654.5 1009.5,656.2C1009.9,657.8 1010.3,659.4 1010.7,661.1C1011.0,662.7 1011.4,664.3 1011.8,665.9C1012.2,667.6 1012.6,669.2 1013.0,670.8C1013.4,672.4 1013.8,674.1 1014.2,675.7C1014.6,677.3 1015.0,678.9 1015.4,680.6C1015.8,682.2 1016.2,683.8 1016.7,685.4C1017.1,687.0 1017.5,688.6 1017.9,690.3C1018.4,691.9 1018.8,693.5 1019.2,695.1C1019.6,696.7 1020.1,698.3 1020.5,699.9C1021.0,701.5 1021.4,703.1 1021.8,704.7C1022.3,706.4 1022.7,708.0 1023.2,709.6C1023.6,711.2 1024.1,712.8 1024.5,714.4C1025.0,716.0 1025.4,717.6 1025.9,719.2C1026.3,720.8 1026.8,722.4 1027.3,724.0C1027.7,725.6 1028.2,727.2 1028.6,728.8C1029.1,730.4 1029.6,732.0 1030.0,733.6C1030.5,735.2 1031.0,736.8 1031.4,738.4C1031.9,740.0 1032.4,741.6 1032.8,743.2C1033.3,744.8 1033.8,746.4 1034.2,748.0C1034.7,749.6 1035.2,751.2 1035.6,752.8C1036.1,754.4 1036.6,756.0 1037.1,757.6C1037.5,759.1 1038.0,760.7 1038.5,762.3C1038.9,763.9 1039.4,765.5 1039.9,767.1C1040.3,768.7 1040.8,770.3 1041.3,771.9C1041.7,773.5 1042.2,775.1 1042.7,776.7C1043.1,778.3 1043.6,779.9 1044.0,781.5C1044.5,783.1 1045.0,784.7 1045.4,786.3C1045.9,787.9 1046.3,789.5 1046.8,791.1C1047.3,792.7 1047.7,794.3 1048.2,795.9C1048.6,797.5 1049.1,799.1 1049.5,800.7C1050.0,802.3 1050.4,803.9 1050.8,805.5C1051.3,807.1 1051.7,808.7 1052.2,810.4C1052.6,812.0 1053.0,813.6 1053.5,815.2C1053.9,816.8 1054.3,818.4 1054.7,820.0C1055.2,821.6 1055.6,823.2 1056.0,824.8C1056.4,826.5 1056.8,828.1 1057.3,829.7C1057.7,831.3 1058.1,832.9 1058.5,834.5C1058.9,836.2 1059.3,837.8 1059.7,839.4C1060.1,841.0 1060.5,842.6 1060.9,844.2C1061.3,845.9 1061.7,847.5 1062.1,849.1C1062.5,850.7 1062.9,852.4 1063.3,854.0C1063.6,855.6 1064.0,857.2 1064.4,858.8C1064.8,860.5 1065.2,862.1 1065.5,863.7C1065.9,865.4 1066.3,867.0 1066.7,868.6C1067.0,870.2 1067.4,871.9 1067.8,873.5C1068.1,875.1 1068.5,876.8 1068.9,878.4C1069.2,880.0 1069.6,881.6 1069.9,883.3C1070.3,884.9 1070.6,886.5 1071.0,888.2C1071.3,889.8 1071.7,891.4 1072.0,893.1C1072.4,894.7 1072.7,896.4 1073.1,898.0C1073.4,899.6 1073.7,901.3 1074.1,902.9C1074.4,904.5 1074.7,906.2 1075.1,907.8C1075.4,909.5 1075.7,911.1 1076.0,912.7C1076.4,914.4 1076.7,916.0 1077.0,917.7C1077.3,919.3 1077.6,920.9 1078.0,922.6C1078.3,924.2 1078.6,925.9 1078.9,927.5C1079.2,929.1 1079.5,930.8 1079.8,932.4C1080.1,934.1 1080.4,935.7 1080.7,937.4C1081.0,939.0 1081.3,940.7 1081.6,942.3C1081.9,944.0 1082.2,945.6 1082.5,947.3C1082.8,948.9 1083.1,950.5 1083.3,952.2C1083.6,953.8 1083.9,955.5 1084.2,957.1C1084.5,958.8 1084.8,960.4 1085.0,962.1C1085.3,963.7 1085.6,965.4 1085.9,967.0C1086.2,968.7 1086.4,970.3 1086.7,972.0C1087.0,973.6 1087.3,975.3 1087.6,976.9C1087.9,978.5 1088.2,980.2 1088.5,981.8C1088.8,983.5 1089.1,985.1 1089.4,986.7C1089.7,988.4 1090.0,990.0 1090.3,991.6C1090.7,993.3 1091.0,994.9 1091.3,996.5C1091.7,998.2 1092.0,999.8 1092.4,1001.4C1092.7,1003.0 1093.1,1004.6 1093.5,1006.2C1093.9,1007.9 1094.2,1009.5 1094.6,1011.1C1095.0,1012.7 1095.5,1014.3 1095.9,1015.9C1096.3,1017.5 1096.8,1019.1 1097.2,1020.6C1097.7,1022.2 1098.1,1023.8 1098.6,1025.4C1099.1,1027.0 1099.6,1028.5 1100.1,1030.1C1100.6,1031.7 1101.1,1033.3 1101.7,1034.8C1102.2,1036.4 1102.7,1038.0 1103.3,1039.6C1103.8,1041.1 1104.4,1042.7 1104.9,1044.3C1105.5,1045.9 1106.0,1047.5 1106.5,1049.1C1107.1,1050.8 1107.6,1052.4 1108.1,1054.1C1108.7,1055.7 1109.2,1057.4 1109.8,1059.0C1110.4,1060.7 1111.1,1062.4 1111.8,1064.0C1112.6,1065.6 1113.5,1067.3 1114.5,1068.9C1115.5,1070.4 1116.7,1072.0 1117.9,1073.1C1119.1,1074.3 1120.4,1075.1 1121.7,1075.4C1122.9,1075.6 1124.2,1075.2 1125.3,1074.2C1126.5,1073.3 1127.6,1071.9 1128.6,1070.4C1129.6,1068.9 1130.5,1067.2 1131.3,1065.6C1132.1,1063.9 1132.7,1062.3 1133.4,1060.7C1134.0,1059.0 1134.6,1057.4 1135.1,1055.7C1135.7,1054.1 1136.2,1052.4 1136.7,1050.8C1137.3,1049.2 1137.8,1047.6 1138.4,1046.0C1138.9,1044.3 1139.4,1042.7 1140.0,1041.1C1140.5,1039.5 1141.0,1037.9 1141.6,1036.3C1142.1,1034.7 1142.6,1033.1 1143.1,1031.6C1143.6,1030.0 1144.1,1028.4 1144.6,1026.8C1145.1,1025.2 1145.6,1023.6 1146.1,1022.0C1146.6,1020.4 1147.0,1018.8 1147.5,1017.2C1147.9,1015.6 1148.4,1014.0 1148.8,1012.4C1149.3,1010.8 1149.7,1009.2 1150.1,1007.6C1150.5,1006.0 1150.9,1004.3 1151.3,1002.7C1151.7,1001.1 1152.1,999.5 1152.5,997.9C1152.9,996.3 1153.2,994.7 1153.6,993.0C1154.0,991.4 1154.3,989.8 1154.7,988.2C1155.0,986.6 1155.4,984.9 1155.7,983.3C1156.1,981.7 1156.4,980.1 1156.7,978.4C1157.0,976.8 1157.3,975.2 1157.6,973.5C1158.0,971.9 1158.3,970.3 1158.6,968.6C1158.9,967.0 1159.1,965.4 1159.4,963.7C1159.7,962.1 1160.0,960.5 1160.3,958.8C1160.6,957.2 1160.8,955.5 1161.1,953.9C1161.4,952.3 1161.6,950.6 1161.9,949.0C1162.1,947.3 1162.4,945.7 1162.6,944.1C1162.9,942.4 1163.1,940.8 1163.4,939.1C1163.6,937.5 1163.9,935.8 1164.1,934.2C1164.3,932.5 1164.6,930.9 1164.8,929.2C1165.0,927.6 1165.3,925.9 1165.5,924.3C1165.7,922.6 1166.0,921.0 1166.2,919.3C1166.4,917.7 1166.6,916.0 1166.9,914.4C1167.1,912.7 1167.3,911.1 1167.5,909.4C1167.8,907.8 1168.0,906.1 1168.2,904.5C1168.4,902.8 1168.6,901.2 1168.9,899.5C1169.1,897.8 1169.3,896.2 1169.5,894.5C1169.8,892.9 1170.0,891.2 1170.2,889.6C1170.4,887.9 1170.7,886.3 1170.9,884.6C1171.1,883.0 1171.3,881.3 1171.6,879.7C1171.8,878.0 1172.0,876.3 1172.3,874.7C1172.5,873.0 1172.7,871.4 1173.0,869.7C1173.2,868.1 1173.5,866.4 1173.7,864.8C1174.0,863.1 1174.2,861.5 1174.4,859.8C1174.7,858.2 1174.9,856.5 1175.2,854.9C1175.5,853.2 1175.7,851.5 1176.0,849.9C1176.2,848.2 1176.5,846.6 1176.7,844.9C1177.0,843.3 1177.3,841.6 1177.5,840.0C1177.8,838.3 1178.1,836.7 1178.3,835.0C1178.6,833.4 1178.9,831.7 1179.2,830.1C1179.4,828.4 1179.7,826.8 1180.0,825.1C1180.3,823.5 1180.5,821.8 1180.8,820.2C1181.1,818.6 1181.4,816.9 1181.7,815.3C1182.0,813.6 1182.3,812.0 1182.6,810.3C1182.9,808.7 1183.2,807.0 1183.5,805.4C1183.8,803.7 1184.1,802.1 1184.4,800.5C1184.7,798.8 1185.0,797.2 1185.3,795.5C1185.6,793.9 1185.9,792.2 1186.2,790.6C1186.6,789.0 1186.9,787.3 1187.2,785.7C1187.5,784.0 1187.8,782.4 1188.2,780.8C1188.5,779.1 1188.8,777.5 1189.2,775.8C1189.5,774.2 1189.8,772.6 1190.2,770.9C1190.5,769.3 1190.8,767.7 1191.2,766.0C1191.5,764.4 1191.9,762.7 1192.2,761.1C1192.6,759.5 1192.9,757.8 1193.3,756.2C1193.6,754.6 1194.0,752.9 1194.4,751.3C1194.7,749.7 1195.1,748.1 1195.5,746.4C1195.8,744.8 1196.2,743.2 1196.6,741.5C1196.9,739.9 1197.3,738.3 1197.7,736.7C1198.1,735.0 1198.5,733.4 1198.8,731.8C1199.2,730.2 1199.6,728.5 1200.0,726.9C1200.4,725.3 1200.8,723.7 1201.2,722.0C1201.6,720.4 1202.0,718.8 1202.4,717.2C1202.8,715.6 1203.2,714.0 1203.6,712.3C1204.0,710.7 1204.5,709.1 1204.9,707.5C1205.3,705.9 1205.7,704.3 1206.1,702.6C1206.6,701.0 1207.0,699.4 1207.4,697.8C1207.9,696.2 1208.3,694.6 1208.7,693.0C1209.2,691.4 1209.6,689.8 1210.1,688.2C1210.5,686.5 1211.0,684.9 1211.4,683.3C1211.9,681.7 1212.3,680.1 1212.8,678.5C1213.2,676.9 1213.7,675.3 1214.2,673.7C1214.6,672.1 1215.1,670.5 1215.6,668.9C1216.1,667.3 1216.5,665.7 1217.0,664.1C1217.5,662.5 1218.0,661.0 1218.5,659.4C1219.0,657.8 1219.5,656.2 1220.0,654.6C1220.5,653.0 1221.0,651.4 1221.5,649.8C1222.0,648.2 1222.5,646.6 1223.0,645.1C1223.5,643.5 1224.0,641.9 1224.5,640.3C1225.1,638.7 1225.6,637.1 1226.1,635.6C1226.6,634.0 1227.2,632.4 1227.7,630.8C1228.2,629.3 1228.8,627.7 1229.3,626.1C1229.9,624.5 1230.4,623.0 1231.0,621.4C1231.5,619.8 1232.1,618.2 1232.6,616.7C1233.2,615.1 1233.8,613.5 1234.3,612.0C1234.9,610.4 1235.5,608.8 1236.0,607.3C1236.6,605.7 1237.2,604.2 1237.8,602.6C1238.4,601.0 1239.0,599.5 1239.6,597.9C1240.2,596.4 1240.7,594.8 1241.4,593.3C1242.0,591.7 1242.6,590.2 1243.2,588.6C1243.8,587.1 1244.4,585.5 1245.0,584.0C1245.6,582.4 1246.3,580.9 1246.9,579.3C1247.5,577.8 1248.1,576.2 1248.8,574.7C1249.4,573.2 1250.0,571.6 1250.7,570.1C1251.3,568.6 1252.0,567.0 1252.6,565.5C1253.3,563.9 1253.9,562.4 1254.6,560.9C1255.3,559.4 1255.9,557.8 1256.6,556.3C1257.2,554.8 1257.9,553.2 1258.6,551.7C1259.3,550.2 1259.9,548.7 1260.6,547.1C1261.3,545.6 1262.0,544.1 1262.7,542.6C1263.3,541.0 1264.0,539.5 1264.7,538.0C1265.4,536.5 1266.1,535.0 1266.8,533.5C1267.5,531.9 1268.2,530.4 1268.9,528.9C1269.6,527.4 1270.3,525.9 1271.0,524.4C1271.7,522.9 1272.4,521.3 1273.1,519.8C1273.9,518.3 1274.6,516.8 1275.3,515.3C1276.0,513.8 1276.7,512.3 1277.4,510.8C1278.2,509.3 1278.9,507.8 1279.6,506.3C1280.3,504.8 1281.1,503.3 1281.8,501.8C1282.5,500.3 1283.3,498.8 1284.0,497.3C1284.7,495.7 1285.5,494.2 1286.2,492.8C1287.0,491.3 1287.7,489.8 1288.4,488.3C1289.2,486.8 1289.9,485.3 1290.7,483.8C1291.4,482.3 1292.2,480.8 1292.9,479.3C1293.7,477.8 1294.4,476.3 1295.2,474.8C1295.9,473.3 1296.7,471.8 1297.4,470.3C1298.2,468.8 1298.9,467.3 1299.7,465.8C1300.4,464.3 1301.2,462.9 1302.0,461.4C1302.7,459.9 1303.5,458.4 1304.2,456.9C1305.0,455.4 1305.8,453.9 1306.5,452.4C1307.3,450.9 1308.0,449.5 1308.8,448.0C1309.6,446.5 1310.3,445.0 1311.1,443.5C1311.9,442.0 1312.6,440.5 1313.4,439.0C1314.2,437.6 1314.9,436.1 1315.7,434.6C1316.4,433.1 1317.2,431.6 1318.0,430.1C1318.7,428.6 1319.5,427.2 1320.3,425.7C1321.0,424.2 1321.8,422.7 1322.6,421.2C1323.3,419.7 1324.1,418.3 1324.9,416.8C1325.6,415.3 1326.4,413.8 1327.2,412.3C1327.9,410.8 1328.7,409.3 1329.5,407.9C1330.2,406.4 1331.0,404.9 1331.8,403.4C1332.5,401.9 1333.3,400.4 1334.0,399.0C1334.8,397.5 1335.6,396.0 1336.3,394.5C1337.1,393.0 1337.8,391.5 1338.6,390.1C1339.4,388.6 1340.1,387.1 1340.9,385.6C1341.6,384.1 1342.4,382.6 1343.1,381.1C1343.9,379.7 1344.7,378.2 1345.4,376.7C1346.2,375.2 1346.9,373.7 1347.7,372.2C1348.4,370.7 1349.2,369.3 1349.9,367.8C1350.7,366.3 1351.4,364.8 1352.1,363.3C1352.9,361.8 1353.6,360.3 1354.4,358.9C1355.1,357.4 1355.8,355.9 1356.6,354.4C1357.3,352.9 1358.1,351.4 1358.8,349.9C1359.5,348.4 1360.3,346.9 1361.0,345.5C1361.7,344.0 1362.5,342.5 1363.2,341.0C1364.0,339.5 1364.7,338.0 1365.5,336.6C1366.2,335.1 1367.0,333.6 1367.7,332.1C1368.5,330.6 1369.2,329.2 1370.0,327.7C1370.8,326.2 1371.5,324.8 1372.3,323.3C1373.1,321.8 1373.9,320.4 1374.7,318.9C1375.5,317.5 1376.3,316.0 1377.1,314.6C1377.9,313.1 1378.7,311.7 1379.5,310.3C1380.4,308.8 1381.2,307.4 1382.1,306.0C1382.9,304.5 1383.8,303.1 1384.7,301.7C1385.5,300.3 1386.4,298.9 1387.3,297.5C1388.2,296.1 1389.2,294.7 1390.1,293.3C1391.0,292.0 1391.9,290.6 1392.9,289.2C1393.9,287.9 1394.8,286.5 1395.8,285.2C1396.8,283.8 1397.8,282.5 1398.8,281.2C1399.8,279.9 1400.9,278.6 1401.9,277.3C1402.9,276.0 1404.0,274.7 1405.1,273.5C1406.2,272.2 1407.3,271.0 1408.4,269.7C1409.5,268.5 1410.6,267.3 1411.8,266.1C1412.9,264.9 1414.1,263.7 1415.3,262.5C1416.5,261.4 1417.7,260.2 1418.9,259.1C1420.1,258.0 1421.4,256.9 1422.6,255.8C1423.9,254.7 1425.2,253.6 1426.5,252.6C1427.8,251.5 1429.1,250.5 1430.4,249.5C1431.8,248.4 1433.1,247.4 1434.5,246.5C1435.8,245.5 1437.2,244.5 1438.6,243.6C1440.0,242.6 1441.4,241.7 1442.8,240.8C1444.2,239.9 1445.7,239.0 1447.1,238.2C1448.6,237.3 1450.0,236.5 1451.5,235.7C1453.0,234.8 1454.4,234.0 1455.9,233.3C1457.4,232.5 1458.9,231.7 1460.4,231.0C1461.9,230.2 1463.5,229.5 1465.0,228.8C1466.5,228.1 1468.0,227.4 1469.6,226.8C1471.1,226.1 1472.7,225.5 1474.2,224.9C1475.8,224.3 1477.4,223.7 1478.9,223.1C1480.5,222.5 1482.1,222.0 1483.6,221.5C1485.2,220.9 1486.8,220.4 1488.4,219.9C1490.0,219.5 1491.6,219.0 1493.2,218.5C1494.8,218.1 1496.4,217.7 1498.0,217.2C1499.6,216.8 1501.2,216.4 1502.8,216.0C1504.4,215.7 1506.0,215.3 1507.6,214.9C1509.3,214.6 1510.9,214.2 1512.5,213.9C1514.1,213.6 1515.8,213.3 1517.4,212.9C1519.0,212.6 1520.7,212.3 1522.3,212.1C1523.9,211.8 1525.6,211.5 1527.2,211.2C1528.9,210.9 1530.5,210.7 1532.2,210.4C1533.8,210.2 1535.4,209.9 1537.1,209.7C1538.7,209.4 1540.4,209.2 1542.0,209.0C1543.7,208.7 1545.3,208.5 1547.0,208.3C1548.7,208.0 1550.3,207.8 1552.0,207.6C1553.6,207.3 1555.3,207.1 1556.9,206.9C1558.6,206.7 1560.2,206.4 1561.9,206.2C1563.6,206.0 1565.2,205.7 1566.9,205.5C1568.5,205.3 1570.2,205.0 1571.8,204.8C1573.5,204.5 1575.1,204.3 1576.8,204.0C1578.4,203.8 1580.1,203.5 1581.7,203.3C1583.4,203.0 1585.0,202.7 1586.7,202.4C1588.3,202.2 1590.0,201.9 1591.6,201.6C1593.3,201.3 1594.9,201.0 1596.6,200.7C1598.2,200.4 1599.9,200.1 1601.5,199.8C1603.1,199.5 1604.8,199.2 1606.4,198.8C1608.1,198.5 1609.7,198.2 1611.3,197.9C1613.0,197.6 1614.6,197.3 1616.3,197.0C1617.9,196.6 1619.5,196.3 1621.2,196.0C1622.8,195.7 1624.5,195.4 1626.1,195.1C1627.7,194.8 1629.4,194.5 1631.0,194.2C1632.7,193.9 1634.3,193.6 1636.0,193.3C1637.6,193.0 1639.2,192.7 1640.9,192.5C1642.5,192.2 1644.2,191.9 1645.8,191.6C1647.5,191.4 1649.1,191.1 1650.7,190.9C1652.4,190.6 1654.0,190.4 1655.7,190.1C1657.3,189.9 1659.0,189.7 1660.6,189.5C1662.3,189.3 1663.9,189.1 1665.6,188.9C1667.2,188.7 1668.9,188.5 1670.6,188.4C1672.2,188.2 1673.9,188.1 1675.5,187.9C1677.2,187.8 1678.8,187.7 1680.5,187.6C1682.2,187.4 1683.8,187.3 1685.5,187.3C1687.2,187.2 1688.8,187.1 1690.5,187.0C1692.2,187.0 1693.8,186.9 1695.5,186.8C1697.2,186.8 1698.8,186.7 1700.5,186.7C1702.2,186.6 1703.9,186.6 1705.5,186.6C1707.2,186.5 1708.9,186.5 1710.5,186.5C1712.2,186.4 1713.9,186.4 1715.6,186.4C1717.2,186.3 1718.9,186.3 1720.6,186.3C1722.2,186.2 1723.9,186.2 1725.6,186.2C1727.2,186.1 1728.9,186.1 1730.6,186.0C1732.3,186.0 1733.9,185.9 1735.6,185.8C1737.3,185.8 1738.9,185.7 1740.6,185.6C1742.2,185.5 1743.9,185.4 1745.6,185.3C1747.2,185.2 1748.9,185.1 1750.5,185.0C1752.2,184.9 1753.9,184.7 1755.5,184.6C1757.2,184.4 1758.8,184.2 1760.5,184.0C1762.1,183.9 1763.8,183.7 1765.4,183.4C1767.0,183.2 1768.7,183.0 1770.3,182.7C1772.0,182.4 1773.6,182.2 1775.2,181.9C1776.9,181.6 1778.5,181.3 1780.1,180.9C1781.8,180.6 1783.4,180.3 1785.0,179.9C1786.7,179.5 1788.3,179.2 1789.9,178.8C1791.5,178.4 1793.1,178.0 1794.8,177.6C1796.4,177.2 1798.0,176.8 1799.6,176.4C1801.2,176.0 1802.9,175.5 1804.5,175.1C1806.1,174.7 1807.7,174.2 1809.3,173.8C1810.9,173.3 1812.5,172.9 1814.2,172.4C1815.8,172.0 1817.4,171.5 1819.0,171.0C1820.6,170.6 1822.2,170.1 1823.8,169.7C1825.5,169.2 1827.1,168.7 1828.7,168.3C1830.3,167.8 1831.9,167.4 1833.5,166.9C1835.1,166.5 1836.8,166.0 1838.4,165.6C1840.0,165.1 1841.6,164.7 1843.2,164.3C1844.8,163.8 1846.5,163.4 1848.1,163.0C1849.7,162.6 1851.3,162.2 1852.9,161.8C1854.6,161.4 1856.2,161.0 1857.8,160.6C1859.4,160.3 1861.1,159.9 1862.7,159.6C1864.3,159.2 1866.0,158.9 1867.6,158.6C1869.2,158.3 1870.9,158.0 1872.5,157.7C1874.2,157.4 1875.8,157.2 1877.4,156.9C1879.1,156.7 1880.7,156.5 1882.4,156.3C1884.0,156.0 1885.7,155.9 1887.3,155.7C1889.0,155.5 1890.7,155.4 1892.3,155.3C1894.0,155.1 1895.6,155.0 1897.3,154.9C1899.0,154.9 1900.6,154.8 1902.3,154.7C1904.0,154.7 1905.6,154.6 1907.3,154.6C1909.0,154.6 1910.7,154.6 1912.3,154.6C1914.0,154.6 1915.7,154.6 1917.3,154.6C1919.0,154.6 1920.7,154.7 1922.4,154.7C1924.0,154.8 1925.7,154.9 1927.4,154.9C1929.1,155.0 1930.7,155.1 1932.4,155.2C1934.1,155.3 1935.8,155.4 1937.4,155.5C1939.1,155.7 1940.8,155.8 1942.5,155.9C1944.1,156.1 1945.8,156.2 1947.5,156.3C1949.1,156.5 1950.8,156.7 1952.5,156.8C1954.1,157.0 1955.8,157.2 1957.5,157.3C1959.1,157.5 1960.8,157.7 1962.5,157.9C1964.1,158.1 1965.8,158.2 1967.4,158.4C1969.1,158.6 1970.7,158.8 1972.4,159.0C1974.0,159.2 1975.7,159.4 1977.3,159.6C1979.0,159.8 1980.6,160.0 1982.2,160.2C1983.9,160.4 1985.5,160.6 1987.1,160.8C1988.8,161.0 1990.4,161.2 1992.0,161.4C1993.6,161.6 1995.3,161.8 1996.9,162.0" stroke="#67BB45" stroke-width="8"/>
<path d="M1445,235 L1445,246" stroke="#67BB45" stroke-width="8"/>
<path d="M346.0,98.7C347.7,98.7 349.4,98.8 351.0,98.9C352.7,98.9 354.3,99.0 356.0,99.1C357.6,99.1 359.3,99.2 360.9,99.3C362.6,99.3 364.3,99.4 365.9,99.5C367.6,99.5 369.2,99.6 370.9,99.7C372.6,99.8 374.2,99.8 375.9,99.9C377.6,100.0 379.2,100.0 380.9,100.1C382.6,100.2 384.2,100.3 385.9,100.3C387.6,100.4 389.2,100.5 390.9,100.6C392.6,100.6 394.2,100.7 395.9,100.8C397.6,100.9 399.2,101.0 400.9,101.0C402.6,101.1 404.2,101.2 405.9,101.3C407.6,101.4 409.2,101.5 410.9,101.6C412.6,101.7 414.3,101.8 415.9,101.8C417.6,101.9 419.3,102.0 420.9,102.1C422.6,102.2 424.3,102.3 425.9,102.5C427.6,102.6 429.3,102.7 431.0,102.8C432.6,102.9 434.3,103.0 436.0,103.1C437.6,103.2 439.3,103.4 441.0,103.5C442.6,103.6 444.3,103.7 446.0,103.9C447.6,104.0 449.3,104.1 451.0,104.3C452.6,104.4 454.3,104.5 456.0,104.7C457.6,104.8 459.3,105.0 461.0,105.1C462.6,105.3 464.3,105.4 466.0,105.6C467.6,105.7 469.3,105.9 470.9,106.1C472.6,106.2 474.3,106.4 475.9,106.6C477.6,106.7 479.2,106.9 480.9,107.1C482.6,107.3 484.2,107.5 485.9,107.7C487.5,107.9 489.2,108.1 490.8,108.3C492.5,108.5 494.1,108.7 495.8,108.9C497.4,109.1 499.1,109.3 500.7,109.5C502.4,109.8 504.0,110.0 505.7,110.2C507.3,110.5 508.9,110.7 510.6,110.9C512.2,111.2 513.9,111.5 515.5,111.7C517.1,112.0 518.8,112.2 520.4,112.5C522.0,112.8 523.7,113.1 525.3,113.4C526.9,113.7 528.6,114.0 530.2,114.3C531.8,114.6 533.4,115.0 535.1,115.3C536.7,115.6 538.3,116.0 539.9,116.3C541.5,116.7 543.1,117.0 544.8,117.4C546.4,117.8 548.0,118.2 549.6,118.6C551.2,119.0 552.8,119.4 554.4,119.9C556.0,120.3 557.6,120.7 559.2,121.2C560.8,121.6 562.4,122.1 564.0,122.6C565.6,123.1 567.2,123.6 568.8,124.1C570.4,124.6 571.9,125.1 573.5,125.7C575.1,126.2 576.7,126.8 578.3,127.3C579.8,127.9 581.4,128.5 583.0,129.1C584.6,129.7 586.1,130.4 587.7,131.0C589.2,131.6 590.8,132.3 592.4,133.0C593.9,133.7 595.4,134.4 597.0,135.1C598.5,135.8 600.0,136.5 601.5,137.3C603.1,138.0 604.6,138.8 606.1,139.6C607.5,140.4 609.0,141.2 610.5,142.0C612.0,142.8 613.4,143.7 614.9,144.5C616.3,145.4 617.7,146.3 619.1,147.2C620.5,148.1 621.9,149.0 623.3,150.0C624.7,150.9 626.0,151.9 627.4,152.9C628.7,153.9 630.0,154.9 631.3,155.9C632.6,157.0 633.9,158.0 635.2,159.1C636.4,160.2 637.6,161.3 638.9,162.4C640.1,163.5 641.2,164.7 642.4,165.8C643.6,167.0 644.7,168.2 645.8,169.4C646.9,170.6 648.0,171.8 649.1,173.1C650.1,174.3 651.2,175.6 652.2,176.9C653.2,178.2 654.2,179.5 655.2,180.8C656.2,182.1 657.2,183.5 658.1,184.8C659.0,186.2 660.0,187.5 660.9,188.9C661.8,190.3 662.7,191.7 663.5,193.1C664.4,194.6 665.2,196.0 666.1,197.4C666.9,198.9 667.7,200.3 668.5,201.8C669.3,203.2 670.1,204.7 670.9,206.2C671.6,207.7 672.4,209.2 673.1,210.7C673.8,212.2 674.6,213.7 675.3,215.2C676.0,216.7 676.7,218.3 677.4,219.8C678.1,221.3 678.7,222.9 679.4,224.4C680.0,226.0 680.7,227.5 681.3,229.1C682.0,230.6 682.6,232.2 683.2,233.8C683.8,235.3 684.4,236.9 685.0,238.4C685.6,240.0 686.2,241.6 686.8,243.1C687.4,244.7 687.9,246.3 688.5,247.9C689.1,249.4 689.6,251.0 690.1,252.6C690.7,254.2 691.2,255.8 691.7,257.3C692.3,258.9 692.8,260.5 693.3,262.1C693.8,263.7 694.3,265.3 694.8,266.9C695.3,268.5 695.8,270.0 696.2,271.6C696.7,273.2 697.2,274.8 697.6,276.4C698.1,278.0 698.6,279.6 699.0,281.2C699.4,282.8 699.9,284.4 700.3,286.1C700.7,287.7 701.2,289.3 701.6,290.9C702.0,292.5 702.4,294.1 702.8,295.7C703.2,297.3 703.6,298.9 704.0,300.6C704.4,302.2 704.7,303.8 705.1,305.4C705.5,307.0 705.9,308.7 706.2,310.3C706.6,311.9 706.9,313.5 707.3,315.2C707.7,316.8 708.0,318.4 708.3,320.0C708.7,321.7 709.0,323.3 709.3,324.9C709.7,326.6 710.0,328.2 710.3,329.8C710.6,331.5 710.9,333.1 711.2,334.7C711.5,336.4 711.8,338.0 712.1,339.6C712.4,341.3 712.7,342.9 713.0,344.6C713.3,346.2 713.6,347.8 713.9,349.5C714.2,351.1 714.4,352.8 714.7,354.4C715.0,356.1 715.2,357.7 715.5,359.3C715.8,361.0 716.0,362.6 716.3,364.3C716.5,365.9 716.8,367.6 717.0,369.2C717.3,370.9 717.5,372.5 717.8,374.2C718.0,375.8 718.3,377.5 718.5,379.1C718.7,380.8 719.0,382.4 719.2,384.1C719.4,385.7 719.7,387.4 719.9,389.0C720.1,390.7 720.3,392.4 720.6,394.0C720.8,395.7 721.0,397.3 721.2,399.0C721.4,400.6 721.7,402.3 721.9,403.9C722.1,405.6 722.3,407.2 722.5,408.9C722.7,410.6 722.9,412.2 723.1,413.9C723.3,415.5 723.5,417.2 723.8,418.8C724.0,420.5 724.2,422.1 724.4,423.8C724.6,425.5 724.8,427.1 725.0,428.8C725.2,430.4 725.4,432.1 725.6,433.7C725.8,435.4 726.0,437.1 726.2,438.7C726.4,440.4 726.6,442.0 726.8,443.7C727.0,445.3 727.2,447.0 727.4,448.7C727.6,450.3 727.8,452.0 727.9,453.6C728.1,455.3 728.3,456.9 728.5,458.6C728.7,460.2 728.9,461.9 729.1,463.6C729.3,465.2 729.5,466.9 729.7,468.5C729.9,470.2 730.1,471.8 730.3,473.5C730.4,475.2 730.6,476.8 730.8,478.5C731.0,480.1 731.2,481.8 731.4,483.4C731.6,485.1 731.8,486.7 731.9,488.4C732.1,490.1 732.3,491.7 732.5,493.4C732.7,495.0 732.9,496.7 733.0,498.3C733.2,500.0 733.4,501.7 733.6,503.3C733.8,505.0 734.0,506.6 734.1,508.3C734.3,509.9 734.5,511.6 734.7,513.2C734.9,514.9 735.0,516.6 735.2,518.2C735.4,519.9 735.6,521.5 735.8,523.2C735.9,524.8 736.1,526.5 736.3,528.2C736.5,529.8 736.6,531.5 736.8,533.1C737.0,534.8 737.2,536.4 737.3,538.1C737.5,539.8 737.7,541.4 737.9,543.1C738.0,544.7 738.2,546.4 738.4,548.0C738.5,549.7 738.7,551.4 738.9,553.0C739.1,554.7 739.2,556.3 739.4,558.0C739.6,559.6 739.7,561.3 739.9,563.0C740.1,564.6 740.2,566.3 740.4,567.9C740.6,569.6 740.8,571.2 740.9,572.9C741.1,574.6 741.3,576.2 741.4,577.9C741.6,579.5 741.8,581.2 741.9,582.8C742.1,584.5 742.3,586.2 742.4,587.8C742.6,589.5 742.7,591.1 742.9,592.8C743.1,594.4 743.2,596.1 743.4,597.8C743.6,599.4 743.7,601.1 743.9,602.7C744.1,604.4 744.2,606.1 744.4,607.7C744.5,609.4 744.7,611.0 744.9,612.7C745.0,614.3 745.2,616.0 745.3,617.7C745.5,619.3 745.7,621.0 745.8,622.6C746.0,624.3 746.1,626.0 746.3,627.6C746.5,629.3 746.6,630.9 746.8,632.6C746.9,634.3 747.1,635.9 747.2,637.6C747.4,639.2 747.6,640.9 747.7,642.5C747.9,644.2 748.0,645.9 748.2,647.5C748.3,649.2 748.5,650.8 748.7,652.5C748.8,654.2 749.0,655.8 749.1,657.5C749.3,659.1 749.4,660.8 749.6,662.5C749.7,664.1 749.9,665.8 750.0,667.4C750.2,669.1 750.4,670.8 750.5,672.4C750.7,674.1 750.8,675.7 751.0,677.4C751.1,679.1 751.3,680.7 751.4,682.4C751.6,684.0 751.7,685.7 751.9,687.4C752.0,689.0 752.2,690.7 752.3,692.4C752.5,694.0 752.6,695.7 752.8,697.3C752.9,699.0 753.1,700.7 753.3,702.3C753.4,704.0 753.6,705.6 753.7,707.3C753.9,709.0 754.0,710.6 754.2,712.3C754.3,714.0 754.5,715.6 754.6,717.3C754.8,718.9 754.9,720.6 755.1,722.3C755.2,723.9 755.4,725.6 755.5,727.3C755.7,728.9 755.8,730.6 756.0,732.2C756.1,733.9 756.3,735.6 756.5,737.2C756.6,738.9 756.8,740.5 756.9,742.2C757.1,743.9 757.2,745.5 757.4,747.2C757.6,748.9 757.7,750.5 757.9,752.2C758.1,753.8 758.2,755.5 758.4,757.2C758.6,758.8 758.7,760.5 758.9,762.1C759.1,763.8 759.3,765.4 759.4,767.1C759.6,768.8 759.8,770.4 760.0,772.1C760.2,773.7 760.3,775.4 760.5,777.0C760.7,778.7 760.9,780.4 761.1,782.0C761.3,783.7 761.5,785.3 761.7,787.0C761.9,788.6 762.1,790.3 762.3,791.9C762.5,793.6 762.7,795.2 762.9,796.9C763.1,798.5 763.3,800.2 763.5,801.8C763.8,803.5 764.0,805.1 764.2,806.8C764.4,808.4 764.7,810.1 764.9,811.7C765.1,813.4 765.4,815.0 765.6,816.7C765.9,818.3 766.1,820.0 766.4,821.6C766.6,823.3 766.9,824.9 767.1,826.5C767.4,828.2 767.7,829.8 767.9,831.5C768.2,833.1 768.5,834.7 768.7,836.4C769.0,838.0 769.3,839.7 769.6,841.3C769.9,842.9 770.2,844.6 770.5,846.2C770.8,847.8 771.1,849.5 771.4,851.1C771.7,852.7 772.0,854.4 772.4,856.0C772.7,857.6 773.0,859.2 773.3,860.9C773.7,862.5 774.0,864.1 774.4,865.8C774.7,867.4 775.1,869.1 775.5,870.8C775.9,872.6 776.4,874.4 776.9,876.3C777.4,878.2 777.9,880.3 778.5,882.3C779.1,884.3 779.8,886.3 780.4,888.1C781.1,889.8 781.8,891.3 782.5,892.4C783.2,893.4 783.9,894.0 784.6,893.9C785.2,893.8 785.9,893.1 786.5,891.9C787.2,890.8 787.8,889.1 788.4,887.3C788.9,885.5 789.5,883.5 790.0,881.5C790.5,879.5 790.9,877.5 791.4,875.5C791.8,873.5 792.2,871.6 792.5,869.8C792.9,868.0 793.2,866.3 793.6,864.6C793.9,863.0 794.2,861.4 794.5,859.9C794.8,858.4 795.1,856.9 795.4,855.4C795.7,853.8 796.0,852.3 796.2,850.7C796.5,849.2 796.8,847.6 797.0,846.0C797.3,844.4 797.5,842.8 797.8,841.2C798.0,839.6 798.2,838.0 798.5,836.3C798.7,834.7 798.9,833.0 799.1,831.3C799.4,829.7 799.6,828.0 799.8,826.3C800.0,824.6 800.2,822.9 800.4,821.3C800.6,819.6 800.8,817.9 801.0,816.2C801.2,814.5 801.4,812.8 801.6,811.1C801.8,809.4 802.0,807.7 802.2,806.0C802.4,804.4 802.5,802.7 802.7,801.0C802.9,799.3 803.1,797.6 803.2,796.0C803.4,794.3 803.6,792.6 803.8,790.9C803.9,789.3 804.1,787.6 804.3,785.9C804.4,784.2 804.6,782.6 804.8,780.9C804.9,779.2 805.1,777.6 805.3,775.9C805.4,774.2 805.6,772.6 805.8,770.9C805.9,769.3 806.1,767.6 806.2,765.9C806.4,764.3 806.5,762.6 806.7,761.0C806.9,759.3 807.0,757.7 807.2,756.0C807.3,754.3 807.5,752.7 807.6,751.0C807.8,749.4 808.0,747.7 808.1,746.1C808.3,744.4 808.4,742.8 808.6,741.1C808.7,739.5 808.9,737.8 809.1,736.2C809.2,734.5 809.4,732.9 809.5,731.2C809.7,729.6 809.8,727.9 810.0,726.3C810.2,724.6 810.3,723.0 810.5,721.3C810.7,719.7 810.8,718.0 811.0,716.4C811.2,714.7 811.3,713.1 811.5,711.4C811.7,709.8 811.8,708.1 812.0,706.5C812.2,704.8 812.4,703.2 812.5,701.5C812.7,699.9 812.9,698.2 813.1,696.6C813.3,694.9 813.4,693.2 813.6,691.6C813.8,689.9 814.0,688.3 814.2,686.6C814.4,685.0 814.6,683.3 814.8,681.7C815.0,680.0 815.1,678.3 815.3,676.7C815.5,675.0 815.7,673.4 815.9,671.7C816.1,670.1 816.3,668.4 816.5,666.7C816.7,665.1 816.9,663.4 817.1,661.8C817.3,660.1 817.5,658.5 817.8,656.8C818.0,655.1 818.2,653.5 818.4,651.8C818.6,650.2 818.8,648.5 819.0,646.8C819.2,645.2 819.4,643.5 819.6,641.9C819.9,640.2 820.1,638.6 820.3,636.9C820.5,635.2 820.7,633.6 820.9,631.9C821.2,630.3 821.4,628.6 821.6,626.9C821.8,625.3 822.0,623.6 822.3,622.0C822.5,620.3 822.7,618.7 822.9,617.0C823.1,615.3 823.4,613.7 823.6,612.0C823.8,610.4 824.0,608.7 824.3,607.1C824.5,605.4 824.7,603.7 824.9,602.1C825.2,600.4 825.4,598.8 825.6,597.1C825.8,595.5 826.1,593.8 826.3,592.2C826.5,590.5 826.7,588.9 827.0,587.2C827.2,585.5 827.4,583.9 827.6,582.2C827.9,580.6 828.1,578.9 828.3,577.3C828.5,575.6 828.8,574.0 829.0,572.3C829.2,570.7 829.5,569.0 829.7,567.4C829.9,565.7 830.1,564.1 830.4,562.4C830.6,560.8 830.8,559.1 831.0,557.5C831.3,555.9 831.5,554.2 831.7,552.6C832.0,550.9 832.2,549.3 832.4,547.6C832.7,546.0 832.9,544.4 833.2,542.7C833.4,541.1 833.7,539.4 833.9,537.8C834.2,536.2 834.4,534.5 834.7,532.9C835.0,531.3 835.2,529.6 835.5,528.0C835.8,526.4 836.1,524.7 836.4,523.1C836.7,521.5 837.0,519.8 837.3,518.2C837.6,516.6 837.9,514.9 838.3,513.3C838.6,511.7 839.0,510.1 839.3,508.5C839.7,506.8 840.0,505.2 840.4,503.6C840.8,502.0 841.2,500.4 841.6,498.7C842.0,497.1 842.4,495.5 842.8,493.9C843.3,492.3 843.7,490.7 844.2,489.1C844.6,487.5 845.1,485.9 845.6,484.3C846.1,482.7 846.6,481.1 847.1,479.5C847.7,477.9 848.2,476.3 848.8,474.7C849.3,473.1 849.9,471.5 850.5,469.9C851.1,468.3 851.7,466.7 852.4,465.1C853.0,463.5 853.6,462.0 854.3,460.4C855.0,458.8 855.7,457.2 856.4,455.7C857.2,454.1 857.9,452.6 858.8,451.1C859.6,449.6 860.4,448.2 861.4,446.8C862.3,445.4 863.3,444.1 864.4,442.9C865.5,441.7 866.6,440.6 867.9,439.6C869.1,438.6 870.5,437.7 871.9,437.0C873.4,436.2 875.0,435.6 876.6,435.1C878.2,434.7 879.9,434.4 881.6,434.2C883.3,434.1 885.0,434.1 886.7,434.3C888.4,434.5 890.0,434.9 891.6,435.5C893.2,436.1 894.7,436.9 896.0,437.8C897.4,438.8 898.7,440.0 899.8,441.3C901.0,442.6 902.1,444.0 903.1,445.4C904.2,446.8 905.1,448.3 906.1,449.7C907.0,451.1 907.9,452.6 908.8,454.0C909.6,455.5 910.5,456.9 911.3,458.4C912.0,459.8 912.8,461.3 913.6,462.8C914.3,464.3 915.0,465.8 915.7,467.3C916.4,468.8 917.0,470.3 917.7,471.8C918.3,473.3 918.9,474.9 919.5,476.4C920.1,477.9 920.7,479.5 921.3,481.0C921.8,482.6 922.4,484.2 922.9,485.7C923.4,487.3 923.9,488.9 924.4,490.5C924.9,492.1 925.4,493.7 925.8,495.3C926.3,496.9 926.8,498.5 927.2,500.1C927.6,501.7 928.1,503.3 928.5,504.9C928.9,506.5 929.3,508.2 929.7,509.8C930.1,511.4 930.5,513.0 930.9,514.7C931.3,516.3 931.6,517.9 932.0,519.6C932.4,521.2 932.8,522.8 933.1,524.5C933.5,526.1 933.9,527.7 934.2,529.4C934.6,531.0 935.0,532.6 935.3,534.3C935.7,535.9 936.1,537.5 936.4,539.2C936.8,540.8 937.2,542.4 937.6,544.0C937.9,545.7 938.3,547.3 938.7,548.9C939.0,550.6 939.4,552.2 939.8,553.8C940.1,555.4 940.5,557.1 940.9,558.7C941.2,560.3 941.6,562.0 942.0,563.6C942.3,565.2 942.7,566.8 943.1,568.5C943.4,570.1 943.8,571.7 944.1,573.3C944.5,575.0 944.9,576.6 945.2,578.2C945.6,579.8 946.0,581.5 946.3,583.1C946.7,584.7 947.0,586.3 947.4,588.0C947.7,589.6 948.1,591.2 948.4,592.8C948.8,594.5 949.1,596.1 949.5,597.7C949.8,599.3 950.2,601.0 950.5,602.6C950.9,604.2 951.2,605.9 951.6,607.5C951.9,609.1 952.2,610.7 952.6,612.4C952.9,614.0 953.3,615.6 953.6,617.3C953.9,618.9 954.2,620.5 954.6,622.2C954.9,623.8 955.2,625.4 955.6,627.1C955.9,628.7 956.2,630.3 956.5,632.0C956.8,633.6 957.1,635.2 957.5,636.9C957.8,638.5 958.1,640.1 958.4,641.8C958.7,643.4 959.0,645.1 959.3,646.7C959.6,648.3 959.9,650.0 960.2,651.6C960.5,653.3 960.8,654.9 961.1,656.6C961.4,658.2 961.7,659.8 962.0,661.5C962.2,663.1 962.5,664.8 962.8,666.4C963.1,668.1 963.4,669.7 963.7,671.4C964.0,673.0 964.2,674.6 964.5,676.3C964.8,677.9 965.1,679.6 965.4,681.2C965.6,682.9 965.9,684.5 966.2,686.2C966.5,687.8 966.8,689.5 967.0,691.1C967.3,692.8 967.6,694.4 967.9,696.1C968.2,697.7 968.4,699.3 968.7,701.0C969.0,702.6 969.3,704.3 969.6,705.9C969.9,707.6 970.1,709.2 970.4,710.9C970.7,712.5 971.0,714.2 971.3,715.8C971.6,717.5 971.8,719.1 972.1,720.7C972.4,722.4 972.7,724.0 973.0,725.7C973.3,727.3 973.6,729.0 973.9,730.6C974.2,732.2 974.5,733.9 974.8,735.5C975.1,737.2 975.4,738.8 975.7,740.4C976.0,742.1 976.3,743.7 976.6,745.4C976.9,747.0 977.2,748.6 977.5,750.3C977.8,751.9 978.1,753.5 978.4,755.2C978.8,756.8 979.1,758.4 979.4,760.1C979.7,761.7 980.1,763.3 980.4,764.9C980.7,766.6 981.1,768.2 981.4,769.8C981.7,771.4 982.1,773.1 982.4,774.7C982.8,776.3 983.1,777.9 983.5,779.5C983.8,781.2 984.2,782.8 984.5,784.4C984.9,786.0 985.3,787.6 985.6,789.3C986.0,790.9 986.4,792.5 986.7,794.1C987.1,795.7 987.5,797.3 987.9,799.0C988.2,800.6 988.6,802.2 989.0,803.8C989.4,805.5 989.8,807.1 990.1,808.7C990.5,810.3 990.9,812.0 991.3,813.6C991.7,815.2 992.0,816.9 992.4,818.5C992.8,820.1 993.2,821.8 993.6,823.4C993.9,825.1 994.3,826.7 994.7,828.4C995.1,830.0 995.5,831.7 995.8,833.3C996.2,835.0 996.6,836.7 997.0,838.3C997.4,840.0 997.8,841.6 998.3,843.2C998.7,844.9 999.2,846.5 999.7,848.1C1000.2,849.7 1000.7,851.3 1001.3,852.9C1001.8,854.4 1002.5,856.0 1003.1,857.5C1003.8,859.0 1004.5,860.5 1005.3,861.9C1006.0,863.4 1006.9,864.8 1007.7,866.2C1008.6,867.6 1009.6,868.9 1010.6,870.2C1011.7,871.5 1012.8,872.8 1014.0,874.0C1015.2,875.2 1016.4,876.3 1017.8,877.4C1019.1,878.5 1020.5,879.5 1022.0,880.4C1023.4,881.3 1024.9,882.0 1026.5,882.7C1028.0,883.4 1029.6,883.9 1031.1,884.3C1032.7,884.6 1034.3,884.8 1035.8,884.9C1037.4,884.9 1038.9,884.7 1040.5,884.3C1042.0,884.0 1043.5,883.4 1045.0,882.7C1046.4,882.0 1047.9,881.1 1049.3,880.2C1050.8,879.2 1052.2,878.1 1053.6,877.0C1055.0,875.9 1056.3,874.7 1057.7,873.5C1059.1,872.3 1060.4,871.1 1061.7,870.0C1063.0,868.8 1064.3,867.6 1065.6,866.5C1066.9,865.4 1068.2,864.3 1069.5,863.2C1070.7,862.1 1072.0,861.0 1073.2,860.0C1074.5,858.9 1075.7,857.8 1077.0,856.8C1078.2,855.8 1079.5,854.8 1080.7,853.7C1082.0,852.7 1083.2,851.7 1084.4,850.7C1085.7,849.7 1086.9,848.7 1088.2,847.7C1089.5,846.7 1090.7,845.7 1092.0,844.6C1093.3,843.6 1094.6,842.6 1095.9,841.6C1097.2,840.6 1098.6,839.5 1099.9,838.5C1101.2,837.5 1102.5,836.4 1103.8,835.3C1105.1,834.3 1106.4,833.2 1107.7,832.1C1109.0,831.0 1110.2,829.9 1111.4,828.7C1112.7,827.6 1113.9,826.4 1115.0,825.2C1116.2,824.0 1117.3,822.8 1118.4,821.5C1119.4,820.3 1120.5,819.0 1121.4,817.7C1122.4,816.4 1123.3,815.0 1124.2,813.7C1125.1,812.3 1125.9,810.9 1126.7,809.5C1127.5,808.0 1128.2,806.6 1128.9,805.1C1129.6,803.6 1130.3,802.2 1131.0,800.6C1131.6,799.1 1132.2,797.6 1132.8,796.0C1133.4,794.5 1133.9,792.9 1134.5,791.3C1135.0,789.8 1135.5,788.2 1136.0,786.6C1136.5,785.0 1137.0,783.3 1137.5,781.7C1137.9,780.1 1138.4,778.5 1138.9,776.8C1139.3,775.2 1139.8,773.6 1140.2,771.9C1140.7,770.3 1141.1,768.7 1141.6,767.0C1142.0,765.4 1142.5,763.8 1143.0,762.2C1143.4,760.5 1143.9,758.9 1144.4,757.3C1144.8,755.6 1145.3,754.0 1145.8,752.4C1146.3,750.8 1146.8,749.2 1147.2,747.5C1147.7,745.9 1148.2,744.3 1148.7,742.7C1149.2,741.1 1149.7,739.5 1150.1,737.9C1150.6,736.2 1151.1,734.6 1151.6,733.0C1152.1,731.4 1152.6,729.8 1153.1,728.2C1153.6,726.6 1154.0,725.0 1154.5,723.4C1155.0,721.8 1155.5,720.2 1156.0,718.6C1156.5,717.0 1157.0,715.4 1157.4,713.7C1157.9,712.1 1158.4,710.5 1158.9,708.9C1159.3,707.3 1159.8,705.7 1160.3,704.1C1160.7,702.5 1161.2,700.9 1161.7,699.3C1162.1,697.7 1162.6,696.1 1163.0,694.5C1163.5,692.9 1163.9,691.3 1164.4,689.7C1164.8,688.1 1165.2,686.5 1165.7,684.9C1166.1,683.3 1166.5,681.7 1166.9,680.1C1167.4,678.5 1167.8,676.9 1168.2,675.3C1168.6,673.7 1169.0,672.1 1169.4,670.5C1169.8,668.9 1170.2,667.3 1170.6,665.7C1171.0,664.1 1171.4,662.5 1171.8,660.9C1172.2,659.3 1172.5,657.7 1172.9,656.1C1173.3,654.4 1173.7,652.8 1174.1,651.2C1174.4,649.6 1174.8,648.0 1175.2,646.4C1175.5,644.8 1175.9,643.2 1176.3,641.6C1176.6,640.0 1177.0,638.4 1177.3,636.8C1177.7,635.2 1178.1,633.5 1178.4,631.9C1178.8,630.3 1179.1,628.7 1179.5,627.1C1179.8,625.5 1180.1,623.9 1180.5,622.3C1180.8,620.6 1181.2,619.0 1181.5,617.4C1181.9,615.8 1182.2,614.2 1182.5,612.6C1182.9,610.9 1183.2,609.3 1183.5,607.7C1183.9,606.1 1184.2,604.5 1184.5,602.8C1184.9,601.2 1185.2,599.6 1185.5,598.0C1185.9,596.3 1186.2,594.7 1186.5,593.1C1186.9,591.5 1187.2,589.8 1187.5,588.2C1187.8,586.6 1188.2,585.0 1188.5,583.3C1188.8,581.7 1189.2,580.1 1189.5,578.4C1189.8,576.8 1190.1,575.2 1190.5,573.5C1190.8,571.9 1191.1,570.3 1191.5,568.6C1191.8,567.0 1192.1,565.4 1192.4,563.7C1192.8,562.1 1193.1,560.4 1193.4,558.8C1193.8,557.1 1194.1,555.5 1194.4,553.9C1194.8,552.2 1195.1,550.6 1195.5,548.9C1195.8,547.3 1196.1,545.6 1196.5,544.0C1196.8,542.3 1197.2,540.7 1197.5,539.0C1197.9,537.3 1198.2,535.7 1198.6,534.0C1198.9,532.4 1199.3,530.7 1199.6,529.1C1200.0,527.4 1200.3,525.8 1200.7,524.1C1201.1,522.4 1201.4,520.8 1201.8,519.1C1202.2,517.5 1202.5,515.8 1202.9,514.2C1203.3,512.5 1203.7,510.9 1204.1,509.2C1204.5,507.6 1204.9,505.9 1205.3,504.3C1205.7,502.6 1206.1,501.0 1206.5,499.3C1206.9,497.7 1207.3,496.0 1207.7,494.4C1208.2,492.7 1208.6,491.1 1209.0,489.5C1209.5,487.8 1209.9,486.2 1210.4,484.6C1210.8,482.9 1211.3,481.3 1211.7,479.7C1212.2,478.1 1212.7,476.4 1213.2,474.8C1213.6,473.2 1214.1,471.6 1214.6,470.0C1215.1,468.4 1215.6,466.8 1216.1,465.2C1216.7,463.6 1217.2,462.0 1217.7,460.4C1218.3,458.8 1218.8,457.2 1219.4,455.7C1219.9,454.1 1220.5,452.5 1221.1,450.9C1221.6,449.4 1222.2,447.8 1222.8,446.2C1223.4,444.7 1224.0,443.1 1224.6,441.6C1225.2,440.1 1225.9,438.5 1226.5,437.0C1227.2,435.5 1227.8,433.9 1228.5,432.4C1229.1,430.9 1229.8,429.4 1230.5,427.9C1231.2,426.4 1231.9,424.9 1232.6,423.4C1233.3,421.9 1234.1,420.5 1234.8,419.0C1235.6,417.5 1236.3,416.1 1237.1,414.6C1237.9,413.2 1238.6,411.7 1239.4,410.3C1240.2,408.9 1241.1,407.4 1241.9,406.0C1242.7,404.6 1243.6,403.2 1244.4,401.8C1245.3,400.4 1246.2,399.0 1247.0,397.7C1247.9,396.3 1248.8,394.9 1249.8,393.6C1250.7,392.2 1251.6,390.9 1252.6,389.6C1253.5,388.2 1254.5,386.9 1255.5,385.6C1256.5,384.3 1257.5,383.0 1258.5,381.7C1259.6,380.4 1260.6,379.1 1261.7,377.9C1262.7,376.6 1263.8,375.4 1264.9,374.1C1266.0,372.9 1267.1,371.7 1268.2,370.5C1269.4,369.3 1270.5,368.1 1271.7,366.9C1272.8,365.7 1274.0,364.5 1275.2,363.4C1276.4,362.2 1277.6,361.1 1278.8,359.9C1280.0,358.8 1281.3,357.7 1282.5,356.6C1283.8,355.5 1285.0,354.4 1286.3,353.3C1287.6,352.2 1288.9,351.2 1290.2,350.1C1291.5,349.1 1292.8,348.1 1294.1,347.1C1295.5,346.0 1296.8,345.0 1298.2,344.1C1299.5,343.1 1300.9,342.1 1302.3,341.2C1303.6,340.2 1305.0,339.3 1306.4,338.4C1307.8,337.5 1309.2,336.6 1310.6,335.7C1312.1,334.8 1313.5,333.9 1314.9,333.1C1316.4,332.2 1317.8,331.4 1319.3,330.6C1320.7,329.8 1322.2,329.0 1323.7,328.2C1325.1,327.4 1326.6,326.6 1328.1,325.9C1329.6,325.1 1331.1,324.4 1332.6,323.7C1334.1,322.9 1335.6,322.2 1337.1,321.5C1338.6,320.8 1340.1,320.1 1341.6,319.4C1343.1,318.7 1344.7,318.0 1346.2,317.3C1347.7,316.6 1349.2,315.8 1350.7,315.1C1352.2,314.4 1353.7,313.7 1355.2,313.0C1356.7,312.3 1358.2,311.5 1359.7,310.8C1361.2,310.0 1362.7,309.3 1364.2,308.5C1365.7,307.8 1367.2,307.0 1368.7,306.2C1370.1,305.4 1371.6,304.5 1373.0,303.7C1374.5,302.9 1375.9,302.0 1377.4,301.2C1378.8,300.3 1380.3,299.5 1381.7,298.6C1383.2,297.7 1384.6,296.8 1386.0,295.9C1387.4,295.1 1388.9,294.2 1390.3,293.3C1391.7,292.4 1393.2,291.5 1394.6,290.6C1396.0,289.7 1397.4,288.9 1398.9,288.0C1400.3,287.1 1401.7,286.3 1403.2,285.4C1404.6,284.6 1406.1,283.7 1407.5,282.9C1409.0,282.1 1410.4,281.2 1411.9,280.5C1413.3,279.7 1414.8,278.9 1416.3,278.1C1417.7,277.4 1419.2,276.7 1420.7,276.0C1422.2,275.3 1423.7,274.6 1425.2,273.9C1426.7,273.3 1428.3,272.7 1429.8,272.1C1431.3,271.5 1432.9,270.9 1434.4,270.4C1436.0,269.8 1437.5,269.3 1439.1,268.9C1440.7,268.4 1442.3,268.0 1443.9,267.6C1445.5,267.1 1447.1,266.8 1448.7,266.4C1450.3,266.1 1452.0,265.8 1453.6,265.5C1455.3,265.2 1456.9,265.0 1458.6,264.7C1460.2,264.5 1461.9,264.3 1463.6,264.2C1465.3,264.1 1467.0,263.9 1468.7,263.9C1470.4,263.8 1472.1,263.7 1473.8,263.7C1475.6,263.7 1477.3,263.7 1479.0,263.7C1480.8,263.7 1482.5,263.7 1484.2,263.7C1485.9,263.7 1487.7,263.7 1489.4,263.7C1491.1,263.6 1492.8,263.6 1494.5,263.6C1496.2,263.5 1497.9,263.4 1499.6,263.3C1501.3,263.2 1503.0,263.1 1504.6,262.9C1506.3,262.7 1507.9,262.5 1509.5,262.2C1511.1,261.9 1512.7,261.6 1514.3,261.2C1515.9,260.9 1517.4,260.4 1519.0,260.0C1520.5,259.5 1522.0,259.0 1523.5,258.5C1525.1,257.9 1526.6,257.4 1528.0,256.8C1529.5,256.2 1531.0,255.5 1532.5,254.8C1533.9,254.2 1535.4,253.4 1536.8,252.7C1538.3,252.0 1539.7,251.2 1541.1,250.4C1542.5,249.6 1544.0,248.8 1545.4,248.0C1546.8,247.1 1548.2,246.3 1549.6,245.4C1551.0,244.5 1552.3,243.6 1553.7,242.7C1555.1,241.8 1556.5,240.9 1557.9,240.0C1559.3,239.0 1560.6,238.1 1562.0,237.2C1563.4,236.2 1564.8,235.2 1566.1,234.3C1567.5,233.3 1568.9,232.3 1570.3,231.4C1571.7,230.4 1573.0,229.4 1574.4,228.5C1575.8,227.5 1577.2,226.5 1578.6,225.5C1580.0,224.6 1581.4,223.6 1582.8,222.7C1584.2,221.7 1585.6,220.8 1587.0,219.9C1588.4,218.9 1589.9,218.0 1591.3,217.1C1592.7,216.2 1594.2,215.3 1595.6,214.5C1597.1,213.6 1598.6,212.7 1600.0,211.9C1601.5,211.1 1603.0,210.3 1604.5,209.5C1606.0,208.7 1607.5,207.9 1609.0,207.1C1610.5,206.4 1612.0,205.7 1613.6,204.9C1615.1,204.2 1616.6,203.5 1618.2,202.9C1619.7,202.2 1621.3,201.6 1622.8,201.0C1624.4,200.3 1626.0,199.8 1627.6,199.2C1629.1,198.6 1630.7,198.1 1632.3,197.6C1633.9,197.1 1635.5,196.6 1637.1,196.1C1638.7,195.7 1640.3,195.2 1641.9,194.8C1643.5,194.4 1645.1,194.0 1646.8,193.7C1648.4,193.4 1650.0,193.1 1651.6,192.8C1653.3,192.5 1654.9,192.2 1656.5,192.0C1658.2,191.8 1659.8,191.6 1661.5,191.5C1663.1,191.3 1664.8,191.2 1666.4,191.1C1668.1,190.9 1669.7,190.9 1671.4,190.8C1673.1,190.8 1674.7,190.7 1676.4,190.8C1678.0,190.8 1679.7,190.8 1681.4,190.8C1683.0,190.9 1684.7,191.0 1686.4,191.1C1688.0,191.2 1689.7,191.3 1691.4,191.5C1693.0,191.6 1694.7,191.8 1696.3,192.0C1698.0,192.2 1699.7,192.4 1701.3,192.7C1703.0,192.9 1704.6,193.2 1706.3,193.4C1707.9,193.7 1709.6,194.0 1711.2,194.4C1712.9,194.7 1714.5,195.0 1716.2,195.4C1717.8,195.8 1719.4,196.1 1721.1,196.5C1722.7,196.9 1724.3,197.4 1725.9,197.8C1727.6,198.2 1729.2,198.7 1730.8,199.2C1732.4,199.6 1734.0,200.1 1735.6,200.6C1737.2,201.1 1738.8,201.6 1740.4,202.2C1742.0,202.7 1743.5,203.2 1745.1,203.8C1746.7,204.4 1748.2,204.9 1749.8,205.5C1751.3,206.1 1752.9,206.7 1754.4,207.3C1756.0,207.9 1757.5,208.6 1759.1,209.2C1760.6,209.8 1762.1,210.5 1763.6,211.1C1765.2,211.8 1766.7,212.5 1768.2,213.1C1769.7,213.8 1771.2,214.5 1772.7,215.2C1774.2,215.9 1775.7,216.6 1777.2,217.3C1778.7,218.1 1780.2,218.8 1781.7,219.5C1783.1,220.3 1784.6,221.0 1786.1,221.7C1787.6,222.5 1789.1,223.3 1790.5,224.0C1792.0,224.8 1793.5,225.6 1794.9,226.3C1796.4,227.1 1797.9,227.9 1799.3,228.7C1800.8,229.5 1802.3,230.3 1803.7,231.1C1805.2,231.9 1806.6,232.7 1808.1,233.5C1809.5,234.3 1811.0,235.1 1812.4,235.9C1813.9,236.7 1815.3,237.5 1816.8,238.4C1818.3,239.2 1819.7,240.0 1821.2,240.8C1822.6,241.7 1824.1,242.5 1825.5,243.3C1827.0,244.2 1828.4,245.0 1829.9,245.8C1831.3,246.6 1832.8,247.5 1834.2,248.3C1835.7,249.1 1837.1,250.0 1838.6,250.8C1840.0,251.6 1841.5,252.5 1842.9,253.3C1844.4,254.1 1845.8,254.9 1847.3,255.8C1848.8,256.6 1850.2,257.4 1851.7,258.2C1853.2,259.0 1854.6,259.9 1856.1,260.7C1857.6,261.5 1859.0,262.3 1860.5,263.1C1862.0,263.9 1863.5,264.7 1865.0,265.5C1866.5,266.3 1867.9,267.1 1869.4,267.9C1870.9,268.6 1872.4,269.4 1873.9,270.2C1875.4,271.0 1876.9,271.7 1878.4,272.5C1879.9,273.2 1881.5,274.0 1883.0,274.7C1884.5,275.5 1886.0,276.2 1887.6,276.9C1889.1,277.6 1890.6,278.3 1892.2,278.9C1893.7,279.6 1895.3,280.2 1896.8,280.7C1898.4,281.3 1899.9,281.8 1901.5,282.2C1903.1,282.6 1904.7,283.0 1906.2,283.3C1907.8,283.6 1909.4,283.9 1911.0,284.0C1912.6,284.2 1914.2,284.3 1915.9,284.2C1917.5,284.2 1919.1,284.1 1920.7,283.9C1922.4,283.7 1924.0,283.4 1925.6,283.0C1927.3,282.7 1928.9,282.2 1930.5,281.7C1932.1,281.2 1933.7,280.6 1935.3,280.0C1936.9,279.4 1938.4,278.7 1940.0,277.9C1941.5,277.2 1943.0,276.4 1944.5,275.5C1946.0,274.7 1947.4,273.8 1948.8,272.8C1950.2,271.9 1951.6,270.9 1952.9,269.9C1954.3,268.9 1955.6,267.9 1956.9,266.8C1958.1,265.8 1959.4,264.7 1960.6,263.6C1961.8,262.5 1963.0,261.3 1964.2,260.2C1965.4,259.0 1966.6,257.9 1967.7,256.7C1968.9,255.6 1970.1,254.4 1971.2,253.2C1972.4,252.0 1973.5,250.8 1974.7,249.6C1975.8,248.4 1977.0,247.3 1978.1,246.1C1979.3,244.9 1980.5,243.7 1981.7,242.6C1982.9,241.4 1984.1,240.3 1985.3,239.1C1986.5,238.0 1987.8,236.9 1989.1,235.8C1990.4,234.7 1991.7,233.7 1993.0,232.6C1994.4,231.6 1995.8,230.6 1997.2,229.6" stroke="#3953A4" stroke-width="11.5"/>
<path d="M396,93.5 L396,135 M508.3,105 L508.3,130 M1444,262 L1444,270" stroke="#3953A4" stroke-width="11.3"/>
</g>
<rect x="1547" y="424" width="375" height="264" fill="#070909" shape-rendering="crispEdges"/>
<rect x="1551" y="427" width="368" height="258" fill="#FEFEFE" shape-rendering="crispEdges"/>
<g stroke-linecap="round" fill="none" shape-rendering="crispEdges">
<line x1="1559" y1="473" x2="1710" y2="473" stroke="#ED1C24" stroke-width="8"/>
<line x1="1559" y1="556" x2="1710" y2="556" stroke="#67BB45" stroke-width="8"/>
<line x1="1558.5" y1="639.5" x2="1710.5" y2="639.5" stroke="#5D69B1" stroke-width="11"/>
</g>
<rect x="1558" y="634" width="1" height="11" fill="#3953A4" shape-rendering="crispEdges"/>
<g font-family="Liberation Sans, Arial, sans-serif" font-size="69" fill="#070909">
<text x="1729" y="496">-0.6 V</text>
<text x="1729" y="579.5">0 V</text>
<text x="1729" y="663">2.4 V</text>
</g>
</svg></body></html>
